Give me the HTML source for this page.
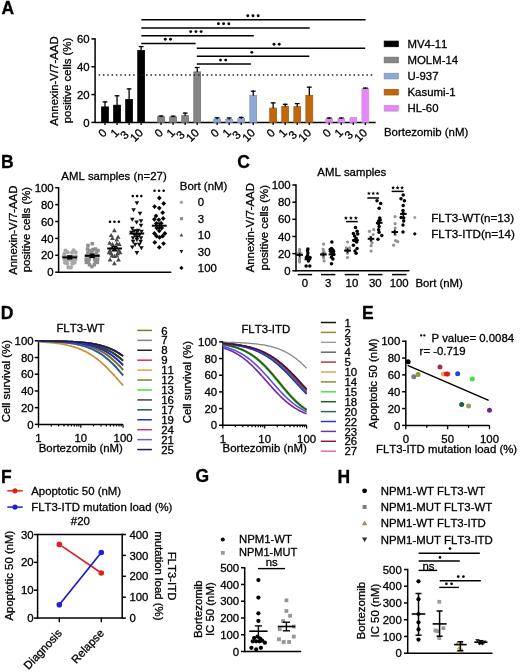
<!DOCTYPE html>
<html><head><meta charset="utf-8"><style>
html,body{margin:0;padding:0;background:#fff;}
text{stroke:#000;stroke-width:0.3px;}
svg{display:block;will-change:transform;font-kerning:none;font-feature-settings:"kern" 0;font-family:"Liberation Sans",sans-serif;font-size:11.4px;}
</style></head><body>
<svg width="520" height="672" viewBox="0 0 520 672">
<rect width="520" height="672" fill="#fff"/>
<text font-weight="bold" font-size="17.5" transform="translate(1.60,13.70)">A</text>
<line x1="95.10" y1="38.20" x2="95.10" y2="123.10" stroke="#000" stroke-width="1.5"/>
<line x1="91.40" y1="122.40" x2="95.10" y2="122.40" stroke="#000" stroke-width="1.5"/>
<text text-anchor="end" transform="translate(89.60,126.50)">0</text>
<line x1="91.40" y1="94.57" x2="95.10" y2="94.57" stroke="#000" stroke-width="1.5"/>
<text text-anchor="end" transform="translate(89.60,98.67)">20</text>
<line x1="91.40" y1="66.73" x2="95.10" y2="66.73" stroke="#000" stroke-width="1.5"/>
<text text-anchor="end" transform="translate(89.60,70.83)">40</text>
<line x1="91.40" y1="38.90" x2="95.10" y2="38.90" stroke="#000" stroke-width="1.5"/>
<text text-anchor="end" transform="translate(89.60,43.00)">60</text>
<line x1="95.10" y1="122.40" x2="375.70" y2="122.40" stroke="#000" stroke-width="1.5"/>
<text text-anchor="middle" transform="translate(57.60,81.00) rotate(-90)">Annexin-V/7-AAD</text>
<text text-anchor="middle" transform="translate(71.30,80.50) rotate(-90)">positive cells (%)</text>
<rect x="101.60" y="106.90" width="6.80" height="15.50" fill="#000000" stroke="#000000" stroke-width="0.8"/>
<line x1="105.00" y1="101.30" x2="105.00" y2="107.00" stroke="#000" stroke-width="1.3"/>
<line x1="102.60" y1="101.90" x2="107.40" y2="101.90" stroke="#000" stroke-width="1.3"/>
<line x1="105.00" y1="122.40" x2="105.00" y2="125.00" stroke="#000" stroke-width="1.3"/>
<text text-anchor="end" transform="translate(107.60,133.60) rotate(-45)">0</text>
<rect x="113.65" y="105.20" width="6.80" height="17.20" fill="#000000" stroke="#000000" stroke-width="0.8"/>
<line x1="117.05" y1="95.20" x2="117.05" y2="105.30" stroke="#000" stroke-width="1.3"/>
<line x1="114.65" y1="95.80" x2="119.45" y2="95.80" stroke="#000" stroke-width="1.3"/>
<line x1="117.05" y1="122.40" x2="117.05" y2="125.00" stroke="#000" stroke-width="1.3"/>
<text text-anchor="end" transform="translate(119.65,133.60) rotate(-45)">1</text>
<rect x="125.70" y="99.40" width="6.80" height="23.00" fill="#000000" stroke="#000000" stroke-width="0.8"/>
<line x1="129.10" y1="88.30" x2="129.10" y2="99.50" stroke="#000" stroke-width="1.3"/>
<line x1="126.70" y1="88.90" x2="131.50" y2="88.90" stroke="#000" stroke-width="1.3"/>
<line x1="129.10" y1="122.40" x2="129.10" y2="125.00" stroke="#000" stroke-width="1.3"/>
<text text-anchor="end" transform="translate(129.50,135.60) rotate(-45)">3</text>
<rect x="137.75" y="50.50" width="6.80" height="71.90" fill="#000000" stroke="#000000" stroke-width="0.8"/>
<line x1="141.15" y1="46.00" x2="141.15" y2="50.60" stroke="#000" stroke-width="1.3"/>
<line x1="138.75" y1="46.60" x2="143.55" y2="46.60" stroke="#000" stroke-width="1.3"/>
<line x1="141.15" y1="122.40" x2="141.15" y2="125.00" stroke="#000" stroke-width="1.3"/>
<text text-anchor="end" transform="translate(143.75,133.60) rotate(-45)">10</text>
<rect x="157.65" y="116.70" width="6.80" height="5.70" fill="#858585" stroke="#707070" stroke-width="0.8"/>
<line x1="161.05" y1="115.40" x2="161.05" y2="116.80" stroke="#000" stroke-width="1.3"/>
<line x1="158.65" y1="116.00" x2="163.45" y2="116.00" stroke="#000" stroke-width="1.3"/>
<line x1="161.05" y1="122.40" x2="161.05" y2="125.00" stroke="#000" stroke-width="1.3"/>
<text text-anchor="end" transform="translate(163.65,133.60) rotate(-45)">0</text>
<rect x="169.70" y="116.90" width="6.80" height="5.50" fill="#858585" stroke="#707070" stroke-width="0.8"/>
<line x1="173.10" y1="115.60" x2="173.10" y2="117.00" stroke="#000" stroke-width="1.3"/>
<line x1="170.70" y1="116.20" x2="175.50" y2="116.20" stroke="#000" stroke-width="1.3"/>
<line x1="173.10" y1="122.40" x2="173.10" y2="125.00" stroke="#000" stroke-width="1.3"/>
<text text-anchor="end" transform="translate(175.70,133.60) rotate(-45)">1</text>
<rect x="181.75" y="115.60" width="6.80" height="6.80" fill="#858585" stroke="#707070" stroke-width="0.8"/>
<line x1="185.15" y1="112.50" x2="185.15" y2="115.70" stroke="#000" stroke-width="1.3"/>
<line x1="182.75" y1="113.10" x2="187.55" y2="113.10" stroke="#000" stroke-width="1.3"/>
<line x1="185.15" y1="122.40" x2="185.15" y2="125.00" stroke="#000" stroke-width="1.3"/>
<text text-anchor="end" transform="translate(185.55,135.60) rotate(-45)">3</text>
<rect x="193.80" y="71.90" width="6.80" height="50.50" fill="#858585" stroke="#707070" stroke-width="0.8"/>
<line x1="197.20" y1="66.90" x2="197.20" y2="72.00" stroke="#000" stroke-width="1.3"/>
<line x1="194.80" y1="67.50" x2="199.60" y2="67.50" stroke="#000" stroke-width="1.3"/>
<line x1="197.20" y1="122.40" x2="197.20" y2="125.00" stroke="#000" stroke-width="1.3"/>
<text text-anchor="end" transform="translate(199.80,133.60) rotate(-45)">10</text>
<rect x="213.70" y="119.10" width="6.80" height="3.30" fill="#8eaad6" stroke="#7f94b8" stroke-width="0.8"/>
<line x1="217.10" y1="117.20" x2="217.10" y2="119.20" stroke="#000" stroke-width="1.3"/>
<line x1="214.70" y1="117.80" x2="219.50" y2="117.80" stroke="#000" stroke-width="1.3"/>
<line x1="217.10" y1="122.40" x2="217.10" y2="125.00" stroke="#000" stroke-width="1.3"/>
<text text-anchor="end" transform="translate(219.70,133.60) rotate(-45)">0</text>
<rect x="225.75" y="119.40" width="6.80" height="3.00" fill="#8eaad6" stroke="#7f94b8" stroke-width="0.8"/>
<line x1="229.15" y1="117.40" x2="229.15" y2="119.50" stroke="#000" stroke-width="1.3"/>
<line x1="226.75" y1="118.00" x2="231.55" y2="118.00" stroke="#000" stroke-width="1.3"/>
<line x1="229.15" y1="122.40" x2="229.15" y2="125.00" stroke="#000" stroke-width="1.3"/>
<text text-anchor="end" transform="translate(231.75,133.60) rotate(-45)">1</text>
<rect x="237.80" y="118.60" width="6.80" height="3.80" fill="#8eaad6" stroke="#7f94b8" stroke-width="0.8"/>
<line x1="241.20" y1="116.80" x2="241.20" y2="118.70" stroke="#000" stroke-width="1.3"/>
<line x1="238.80" y1="117.40" x2="243.60" y2="117.40" stroke="#000" stroke-width="1.3"/>
<line x1="241.20" y1="122.40" x2="241.20" y2="125.00" stroke="#000" stroke-width="1.3"/>
<text text-anchor="end" transform="translate(241.60,135.60) rotate(-45)">3</text>
<rect x="249.85" y="95.40" width="6.80" height="27.00" fill="#8eaad6" stroke="#7f94b8" stroke-width="0.8"/>
<line x1="253.25" y1="90.60" x2="253.25" y2="95.50" stroke="#000" stroke-width="1.3"/>
<line x1="250.85" y1="91.20" x2="255.65" y2="91.20" stroke="#000" stroke-width="1.3"/>
<line x1="253.25" y1="122.40" x2="253.25" y2="125.00" stroke="#000" stroke-width="1.3"/>
<text text-anchor="end" transform="translate(255.85,133.60) rotate(-45)">10</text>
<rect x="269.75" y="108.10" width="6.80" height="14.30" fill="#c2660c" stroke="#a65a12" stroke-width="0.8"/>
<line x1="273.15" y1="102.30" x2="273.15" y2="108.20" stroke="#000" stroke-width="1.3"/>
<line x1="270.75" y1="102.90" x2="275.55" y2="102.90" stroke="#000" stroke-width="1.3"/>
<line x1="273.15" y1="122.40" x2="273.15" y2="125.00" stroke="#000" stroke-width="1.3"/>
<text text-anchor="end" transform="translate(275.75,133.60) rotate(-45)">0</text>
<rect x="281.80" y="106.40" width="6.80" height="16.00" fill="#c2660c" stroke="#a65a12" stroke-width="0.8"/>
<line x1="285.20" y1="103.70" x2="285.20" y2="106.50" stroke="#000" stroke-width="1.3"/>
<line x1="282.80" y1="104.30" x2="287.60" y2="104.30" stroke="#000" stroke-width="1.3"/>
<line x1="285.20" y1="122.40" x2="285.20" y2="125.00" stroke="#000" stroke-width="1.3"/>
<text text-anchor="end" transform="translate(287.80,133.60) rotate(-45)">1</text>
<rect x="293.85" y="106.70" width="6.80" height="15.70" fill="#c2660c" stroke="#a65a12" stroke-width="0.8"/>
<line x1="297.25" y1="103.00" x2="297.25" y2="106.80" stroke="#000" stroke-width="1.3"/>
<line x1="294.85" y1="103.60" x2="299.65" y2="103.60" stroke="#000" stroke-width="1.3"/>
<line x1="297.25" y1="122.40" x2="297.25" y2="125.00" stroke="#000" stroke-width="1.3"/>
<text text-anchor="end" transform="translate(297.65,135.60) rotate(-45)">3</text>
<rect x="305.90" y="95.40" width="6.80" height="27.00" fill="#c2660c" stroke="#a65a12" stroke-width="0.8"/>
<line x1="309.30" y1="86.60" x2="309.30" y2="95.50" stroke="#000" stroke-width="1.3"/>
<line x1="306.90" y1="87.20" x2="311.70" y2="87.20" stroke="#000" stroke-width="1.3"/>
<line x1="309.30" y1="122.40" x2="309.30" y2="125.00" stroke="#000" stroke-width="1.3"/>
<text text-anchor="end" transform="translate(311.90,133.60) rotate(-45)">10</text>
<rect x="325.80" y="118.80" width="6.80" height="3.60" fill="#e488f6" stroke="#c98ada" stroke-width="0.8"/>
<line x1="329.20" y1="117.40" x2="329.20" y2="118.90" stroke="#000" stroke-width="1.3"/>
<line x1="326.80" y1="118.00" x2="331.60" y2="118.00" stroke="#000" stroke-width="1.3"/>
<line x1="329.20" y1="122.40" x2="329.20" y2="125.00" stroke="#000" stroke-width="1.3"/>
<text text-anchor="end" transform="translate(331.80,133.60) rotate(-45)">0</text>
<rect x="337.85" y="118.80" width="6.80" height="3.60" fill="#e488f6" stroke="#c98ada" stroke-width="0.8"/>
<line x1="341.25" y1="117.40" x2="341.25" y2="118.90" stroke="#000" stroke-width="1.3"/>
<line x1="338.85" y1="118.00" x2="343.65" y2="118.00" stroke="#000" stroke-width="1.3"/>
<line x1="341.25" y1="122.40" x2="341.25" y2="125.00" stroke="#000" stroke-width="1.3"/>
<text text-anchor="end" transform="translate(343.85,133.60) rotate(-45)">1</text>
<rect x="349.90" y="117.60" width="6.80" height="4.80" fill="#e488f6" stroke="#c98ada" stroke-width="0.8"/>
<line x1="353.30" y1="122.40" x2="353.30" y2="125.00" stroke="#000" stroke-width="1.3"/>
<text text-anchor="end" transform="translate(353.70,135.60) rotate(-45)">3</text>
<rect x="361.95" y="88.70" width="6.80" height="33.70" fill="#e488f6" stroke="#c98ada" stroke-width="0.8"/>
<line x1="365.35" y1="87.50" x2="365.35" y2="88.80" stroke="#000" stroke-width="1.3"/>
<line x1="362.95" y1="88.10" x2="367.75" y2="88.10" stroke="#000" stroke-width="1.3"/>
<line x1="365.35" y1="122.40" x2="365.35" y2="125.00" stroke="#000" stroke-width="1.3"/>
<text text-anchor="end" transform="translate(367.95,133.60) rotate(-45)">10</text>
<line x1="98.60" y1="74.90" x2="374.00" y2="74.90" stroke="#222" stroke-width="1.5" stroke-dasharray="1.5 2.82"/>
<line x1="141.30" y1="19.80" x2="365.60" y2="19.80" stroke="#000" stroke-width="1.45"/>
<circle cx="247.80" cy="15.70" r="1.45" fill="#000"/>
<circle cx="253.00" cy="15.70" r="1.45" fill="#000"/>
<circle cx="258.20" cy="15.70" r="1.45" fill="#000"/>
<line x1="141.30" y1="27.90" x2="309.70" y2="27.90" stroke="#000" stroke-width="1.45"/>
<circle cx="218.40" cy="23.80" r="1.45" fill="#000"/>
<circle cx="223.60" cy="23.80" r="1.45" fill="#000"/>
<circle cx="228.80" cy="23.80" r="1.45" fill="#000"/>
<line x1="141.30" y1="35.70" x2="253.80" y2="35.70" stroke="#000" stroke-width="1.45"/>
<circle cx="190.70" cy="31.60" r="1.45" fill="#000"/>
<circle cx="195.90" cy="31.60" r="1.45" fill="#000"/>
<circle cx="201.10" cy="31.60" r="1.45" fill="#000"/>
<line x1="141.30" y1="43.40" x2="195.60" y2="43.40" stroke="#000" stroke-width="1.45"/>
<circle cx="165.30" cy="39.30" r="1.45" fill="#000"/>
<circle cx="170.50" cy="39.30" r="1.45" fill="#000"/>
<line x1="196.80" y1="48.20" x2="365.20" y2="48.20" stroke="#000" stroke-width="1.45"/>
<circle cx="274.00" cy="44.30" r="1.45" fill="#000"/>
<circle cx="279.20" cy="44.30" r="1.45" fill="#000"/>
<line x1="196.80" y1="56.25" x2="309.30" y2="56.25" stroke="#000" stroke-width="1.45"/>
<circle cx="251.80" cy="52.35" r="1.45" fill="#000"/>
<line x1="196.80" y1="64.00" x2="250.90" y2="64.00" stroke="#000" stroke-width="1.45"/>
<circle cx="220.50" cy="60.10" r="1.45" fill="#000"/>
<circle cx="225.70" cy="60.10" r="1.45" fill="#000"/>
<rect x="384.20" y="41.10" width="14.1" height="5.6" fill="#000000" stroke="#000000" stroke-width="0.8"/>
<text transform="translate(407.50,47.70)">MV4-11</text>
<rect x="384.20" y="57.20" width="14.1" height="5.6" fill="#858585" stroke="#707070" stroke-width="0.8"/>
<text transform="translate(407.50,63.80)">MOLM-14</text>
<rect x="384.20" y="73.30" width="14.1" height="5.6" fill="#8eaad6" stroke="#7f94b8" stroke-width="0.8"/>
<text transform="translate(407.50,79.90)">U-937</text>
<rect x="384.20" y="89.40" width="14.1" height="5.6" fill="#c2660c" stroke="#a65a12" stroke-width="0.8"/>
<text transform="translate(407.50,96.00)">Kasumi-1</text>
<rect x="384.20" y="105.50" width="14.1" height="5.6" fill="#e488f6" stroke="#c98ada" stroke-width="0.8"/>
<text transform="translate(407.50,112.10)">HL-60</text>
<text transform="translate(384.00,136.10)">Bortezomib (nM)</text>
<text font-weight="bold" font-size="17.5" transform="translate(1.10,168.30)">B</text>
<text transform="translate(61.30,180.00)">AML samples (n=27)</text>
<line x1="58.60" y1="187.00" x2="58.60" y2="272.90" stroke="#000" stroke-width="1.5"/>
<line x1="55.20" y1="272.20" x2="58.60" y2="272.20" stroke="#000" stroke-width="1.5"/>
<text text-anchor="end" transform="translate(53.70,276.30)">0</text>
<line x1="55.20" y1="255.30" x2="58.60" y2="255.30" stroke="#000" stroke-width="1.5"/>
<text text-anchor="end" transform="translate(53.70,259.40)">20</text>
<line x1="55.20" y1="238.40" x2="58.60" y2="238.40" stroke="#000" stroke-width="1.5"/>
<text text-anchor="end" transform="translate(53.70,242.50)">40</text>
<line x1="55.20" y1="221.50" x2="58.60" y2="221.50" stroke="#000" stroke-width="1.5"/>
<text text-anchor="end" transform="translate(53.70,225.60)">60</text>
<line x1="55.20" y1="204.60" x2="58.60" y2="204.60" stroke="#000" stroke-width="1.5"/>
<text text-anchor="end" transform="translate(53.70,208.70)">80</text>
<line x1="55.20" y1="187.70" x2="58.60" y2="187.70" stroke="#000" stroke-width="1.5"/>
<text text-anchor="end" transform="translate(53.70,191.80)">100</text>
<line x1="58.60" y1="272.20" x2="171.30" y2="272.20" stroke="#000" stroke-width="1.5"/>
<text text-anchor="middle" transform="translate(16.70,230.20) rotate(-90)">Annexin-V/7-AAD</text>
<text text-anchor="middle" transform="translate(30.00,229.60) rotate(-90)">positive cells (%)</text>
<circle cx="65.50" cy="250.50" r="2.04" fill="#a8a8a8"/>
<circle cx="67.80" cy="252.30" r="2.04" fill="#a8a8a8"/>
<circle cx="64.50" cy="253.50" r="2.04" fill="#a8a8a8"/>
<circle cx="73.50" cy="250.30" r="2.04" fill="#a8a8a8"/>
<circle cx="75.60" cy="252.30" r="2.04" fill="#a8a8a8"/>
<circle cx="72.00" cy="252.80" r="2.04" fill="#a8a8a8"/>
<circle cx="63.80" cy="256.20" r="2.04" fill="#a8a8a8"/>
<circle cx="66.50" cy="256.80" r="2.04" fill="#a8a8a8"/>
<circle cx="69.70" cy="256.50" r="2.04" fill="#a8a8a8"/>
<circle cx="73.00" cy="256.80" r="2.04" fill="#a8a8a8"/>
<circle cx="75.80" cy="256.20" r="2.04" fill="#a8a8a8"/>
<circle cx="64.50" cy="259.80" r="2.04" fill="#a8a8a8"/>
<circle cx="67.20" cy="260.30" r="2.04" fill="#a8a8a8"/>
<circle cx="70.00" cy="259.80" r="2.04" fill="#a8a8a8"/>
<circle cx="72.70" cy="260.30" r="2.04" fill="#a8a8a8"/>
<circle cx="75.40" cy="259.80" r="2.04" fill="#a8a8a8"/>
<circle cx="65.00" cy="262.80" r="2.04" fill="#a8a8a8"/>
<circle cx="67.20" cy="263.80" r="2.04" fill="#a8a8a8"/>
<circle cx="72.20" cy="263.80" r="2.04" fill="#a8a8a8"/>
<circle cx="74.60" cy="262.80" r="2.04" fill="#a8a8a8"/>
<circle cx="68.40" cy="267.40" r="2.04" fill="#a8a8a8"/>
<circle cx="71.00" cy="267.40" r="2.04" fill="#a8a8a8"/>
<rect x="90.55" y="241.95" width="3.50" height="3.50" fill="#8e8e8e"/>
<rect x="86.25" y="243.65" width="3.50" height="3.50" fill="#8e8e8e"/>
<rect x="85.75" y="247.25" width="3.50" height="3.50" fill="#8e8e8e"/>
<rect x="88.25" y="248.75" width="3.50" height="3.50" fill="#8e8e8e"/>
<rect x="93.75" y="247.25" width="3.50" height="3.50" fill="#8e8e8e"/>
<rect x="96.25" y="248.75" width="3.50" height="3.50" fill="#8e8e8e"/>
<rect x="86.25" y="250.95" width="3.50" height="3.50" fill="#8e8e8e"/>
<rect x="90.25" y="250.75" width="3.50" height="3.50" fill="#8e8e8e"/>
<rect x="94.75" y="250.95" width="3.50" height="3.50" fill="#8e8e8e"/>
<rect x="91.25" y="247.75" width="3.50" height="3.50" fill="#8e8e8e"/>
<rect x="84.75" y="254.05" width="3.50" height="3.50" fill="#8e8e8e"/>
<rect x="88.25" y="254.55" width="3.50" height="3.50" fill="#8e8e8e"/>
<rect x="92.25" y="254.55" width="3.50" height="3.50" fill="#8e8e8e"/>
<rect x="96.05" y="254.05" width="3.50" height="3.50" fill="#8e8e8e"/>
<rect x="84.45" y="257.65" width="3.50" height="3.50" fill="#8e8e8e"/>
<rect x="87.45" y="257.45" width="3.50" height="3.50" fill="#8e8e8e"/>
<rect x="92.85" y="257.45" width="3.50" height="3.50" fill="#8e8e8e"/>
<rect x="95.85" y="257.65" width="3.50" height="3.50" fill="#8e8e8e"/>
<rect x="86.85" y="260.45" width="3.50" height="3.50" fill="#8e8e8e"/>
<rect x="93.45" y="260.45" width="3.50" height="3.50" fill="#8e8e8e"/>
<rect x="84.65" y="260.65" width="3.50" height="3.50" fill="#8e8e8e"/>
<rect x="95.65" y="260.65" width="3.50" height="3.50" fill="#8e8e8e"/>
<rect x="87.75" y="263.05" width="3.50" height="3.50" fill="#8e8e8e"/>
<rect x="92.55" y="263.05" width="3.50" height="3.50" fill="#8e8e8e"/>
<rect x="90.15" y="264.85" width="3.50" height="3.50" fill="#8e8e8e"/>
<path d="M114.40,228.00L116.80,232.20L112.00,232.20Z" fill="#4a4a4a"/>
<path d="M111.20,232.90L113.60,237.10L108.80,237.10Z" fill="#4a4a4a"/>
<path d="M118.10,234.50L120.50,238.70L115.70,238.70Z" fill="#4a4a4a"/>
<path d="M112.40,235.70L114.80,239.90L110.00,239.90Z" fill="#4a4a4a"/>
<path d="M116.80,237.30L119.20,241.50L114.40,241.50Z" fill="#4a4a4a"/>
<path d="M109.60,240.50L112.00,244.70L107.20,244.70Z" fill="#4a4a4a"/>
<path d="M112.40,241.70L114.80,245.90L110.00,245.90Z" fill="#4a4a4a"/>
<path d="M116.80,241.30L119.20,245.50L114.40,245.50Z" fill="#4a4a4a"/>
<path d="M119.30,241.70L121.70,245.90L116.90,245.90Z" fill="#4a4a4a"/>
<path d="M110.00,248.10L112.40,252.30L107.60,252.30Z" fill="#4a4a4a"/>
<path d="M114.40,247.20L116.80,251.40L112.00,251.40Z" fill="#4a4a4a"/>
<path d="M118.70,248.10L121.10,252.30L116.30,252.30Z" fill="#4a4a4a"/>
<path d="M111.20,251.10L113.60,255.30L108.80,255.30Z" fill="#4a4a4a"/>
<path d="M117.60,251.10L120.00,255.30L115.20,255.30Z" fill="#4a4a4a"/>
<path d="M109.00,250.10L111.40,254.30L106.60,254.30Z" fill="#4a4a4a"/>
<path d="M120.20,250.10L122.60,254.30L117.80,254.30Z" fill="#4a4a4a"/>
<path d="M114.40,253.80L116.80,258.00L112.00,258.00Z" fill="#4a4a4a"/>
<path d="M112.00,253.20L114.40,257.40L109.60,257.40Z" fill="#4a4a4a"/>
<path d="M116.80,253.20L119.20,257.40L114.40,257.40Z" fill="#4a4a4a"/>
<path d="M110.00,257.30L112.40,261.50L107.60,261.50Z" fill="#4a4a4a"/>
<path d="M118.50,257.30L120.90,261.50L116.10,261.50Z" fill="#4a4a4a"/>
<path d="M114.40,261.00L116.80,265.20L112.00,265.20Z" fill="#4a4a4a"/>
<path d="M112.00,245.10L114.40,249.30L109.60,249.30Z" fill="#4a4a4a"/>
<path d="M116.60,245.10L119.00,249.30L114.20,249.30Z" fill="#4a4a4a"/>
<path d="M136.90,205.34L139.24,201.25L134.56,201.25Z" fill="#111111"/>
<path d="M133.60,212.34L135.94,208.25L131.26,208.25Z" fill="#111111"/>
<path d="M140.00,215.84L142.34,211.75L137.66,211.75Z" fill="#111111"/>
<path d="M132.30,221.74L134.64,217.65L129.96,217.65Z" fill="#111111"/>
<path d="M136.60,224.54L138.94,220.44L134.26,220.44Z" fill="#111111"/>
<path d="M141.00,223.24L143.34,219.15L138.66,219.15Z" fill="#111111"/>
<path d="M141.00,227.74L143.34,223.65L138.66,223.65Z" fill="#111111"/>
<path d="M132.30,230.84L134.64,226.75L129.96,226.75Z" fill="#111111"/>
<path d="M134.00,233.34L136.34,229.25L131.66,229.25Z" fill="#111111"/>
<path d="M138.00,232.84L140.34,228.75L135.66,228.75Z" fill="#111111"/>
<path d="M141.50,233.84L143.84,229.75L139.16,229.75Z" fill="#111111"/>
<path d="M131.50,234.84L133.84,230.75L129.16,230.75Z" fill="#111111"/>
<path d="M134.50,237.34L136.84,233.25L132.16,233.25Z" fill="#111111"/>
<path d="M139.50,237.34L141.84,233.25L137.16,233.25Z" fill="#111111"/>
<path d="M136.90,239.84L139.24,235.75L134.56,235.75Z" fill="#111111"/>
<path d="M133.00,240.34L135.34,236.25L130.66,236.25Z" fill="#111111"/>
<path d="M141.00,240.34L143.34,236.25L138.66,236.25Z" fill="#111111"/>
<path d="M133.10,243.94L135.44,239.84L130.76,239.84Z" fill="#111111"/>
<path d="M140.70,243.94L143.04,239.84L138.36,239.84Z" fill="#111111"/>
<path d="M136.90,241.94L139.24,237.84L134.56,237.84Z" fill="#111111"/>
<path d="M135.20,246.94L137.54,242.84L132.86,242.84Z" fill="#111111"/>
<path d="M139.20,246.94L141.54,242.84L136.86,242.84Z" fill="#111111"/>
<path d="M132.30,249.54L134.64,245.44L129.96,245.44Z" fill="#111111"/>
<path d="M141.40,250.24L143.74,246.15L139.06,246.15Z" fill="#111111"/>
<path d="M136.90,255.14L139.24,251.05L134.56,251.05Z" fill="#111111"/>
<path d="M159.30,195.59L161.71,198.00L159.30,200.41L156.90,198.00Z" fill="#050505"/>
<path d="M163.70,201.09L166.10,203.50L163.70,205.91L161.29,203.50Z" fill="#050505"/>
<path d="M154.60,204.19L157.00,206.60L154.60,209.00L152.19,206.60Z" fill="#050505"/>
<path d="M159.30,205.69L161.71,208.10L159.30,210.50L156.90,208.10Z" fill="#050505"/>
<path d="M162.70,210.29L165.10,212.70L162.70,215.10L160.29,212.70Z" fill="#050505"/>
<path d="M156.00,213.50L158.41,215.90L156.00,218.31L153.59,215.90Z" fill="#050505"/>
<path d="M163.20,216.00L165.60,218.40L163.20,220.81L160.79,218.40Z" fill="#050505"/>
<path d="M154.40,216.90L156.81,219.30L154.40,221.71L152.00,219.30Z" fill="#050505"/>
<path d="M158.80,217.40L161.21,219.80L158.80,222.21L156.40,219.80Z" fill="#050505"/>
<path d="M156.30,221.00L158.71,223.40L156.30,225.81L153.90,223.40Z" fill="#050505"/>
<path d="M161.20,220.79L163.60,223.20L161.20,225.60L158.79,223.20Z" fill="#050505"/>
<path d="M156.80,225.59L159.21,228.00L156.80,230.41L154.40,228.00Z" fill="#050505"/>
<path d="M161.70,225.59L164.10,228.00L161.70,230.41L159.29,228.00Z" fill="#050505"/>
<path d="M159.30,228.40L161.71,230.80L159.30,233.21L156.90,230.80Z" fill="#050505"/>
<path d="M154.50,231.09L156.91,233.50L154.50,235.91L152.09,233.50Z" fill="#050505"/>
<path d="M156.60,233.79L159.00,236.20L156.60,238.60L154.19,236.20Z" fill="#050505"/>
<path d="M159.60,235.00L162.00,237.40L159.60,239.81L157.19,237.40Z" fill="#050505"/>
<path d="M162.60,233.79L165.00,236.20L162.60,238.60L160.19,236.20Z" fill="#050505"/>
<path d="M164.80,231.09L167.21,233.50L164.80,235.91L162.40,233.50Z" fill="#050505"/>
<path d="M154.80,240.00L157.21,242.40L154.80,244.81L152.40,242.40Z" fill="#050505"/>
<path d="M163.50,241.19L165.91,243.60L163.50,246.00L161.09,243.60Z" fill="#050505"/>
<path d="M159.30,244.90L161.71,247.30L159.30,249.71L156.90,247.30Z" fill="#050505"/>
<line x1="62.30" y1="257.40" x2="77.10" y2="257.40" stroke="#000" stroke-width="2.0"/>
<line x1="69.70" y1="256.00" x2="69.70" y2="258.80" stroke="#000" stroke-width="1.4"/>
<line x1="67.10" y1="256.00" x2="72.30" y2="256.00" stroke="#000" stroke-width="1.4"/>
<line x1="67.10" y1="258.80" x2="72.30" y2="258.80" stroke="#000" stroke-width="1.4"/>
<line x1="84.80" y1="255.80" x2="99.60" y2="255.80" stroke="#000" stroke-width="2.0"/>
<line x1="92.20" y1="254.20" x2="92.20" y2="257.40" stroke="#000" stroke-width="1.4"/>
<line x1="89.60" y1="254.20" x2="94.80" y2="254.20" stroke="#000" stroke-width="1.4"/>
<line x1="89.60" y1="257.40" x2="94.80" y2="257.40" stroke="#000" stroke-width="1.4"/>
<line x1="107.20" y1="248.50" x2="122.00" y2="248.50" stroke="#000" stroke-width="2.0"/>
<line x1="114.60" y1="246.50" x2="114.60" y2="250.50" stroke="#000" stroke-width="1.4"/>
<line x1="112.00" y1="246.50" x2="117.20" y2="246.50" stroke="#000" stroke-width="1.4"/>
<line x1="112.00" y1="250.50" x2="117.20" y2="250.50" stroke="#000" stroke-width="1.4"/>
<line x1="129.40" y1="233.50" x2="144.20" y2="233.50" stroke="#000" stroke-width="2.0"/>
<line x1="136.80" y1="230.70" x2="136.80" y2="236.30" stroke="#000" stroke-width="1.4"/>
<line x1="134.20" y1="230.70" x2="139.40" y2="230.70" stroke="#000" stroke-width="1.4"/>
<line x1="134.20" y1="236.30" x2="139.40" y2="236.30" stroke="#000" stroke-width="1.4"/>
<line x1="151.85" y1="225.70" x2="166.65" y2="225.70" stroke="#000" stroke-width="2.0"/>
<line x1="159.25" y1="223.10" x2="159.25" y2="228.30" stroke="#000" stroke-width="1.4"/>
<line x1="156.65" y1="223.10" x2="161.85" y2="223.10" stroke="#000" stroke-width="1.4"/>
<line x1="156.65" y1="228.30" x2="161.85" y2="228.30" stroke="#000" stroke-width="1.4"/>
<circle cx="110.00" cy="221.80" r="1.30" fill="#000"/>
<circle cx="114.45" cy="221.80" r="1.30" fill="#000"/>
<circle cx="118.90" cy="221.80" r="1.30" fill="#000"/>
<circle cx="132.80" cy="196.10" r="1.30" fill="#000"/>
<circle cx="137.05" cy="196.10" r="1.30" fill="#000"/>
<circle cx="141.30" cy="196.10" r="1.30" fill="#000"/>
<circle cx="154.55" cy="190.70" r="1.30" fill="#000"/>
<circle cx="159.10" cy="190.70" r="1.30" fill="#000"/>
<circle cx="163.65" cy="190.70" r="1.30" fill="#000"/>
<text transform="translate(179.80,190.00)">Bort (nM)</text>
<circle cx="181.40" cy="202.30" r="1.76" fill="#a8a8a8"/>
<text transform="translate(197.80,206.40)">0</text>
<rect x="179.80" y="217.10" width="3.20" height="3.20" fill="#8e8e8e"/>
<text transform="translate(197.80,222.80)">3</text>
<path d="M181.40,233.18L183.32,236.54L179.48,236.54Z" fill="#4a4a4a"/>
<text transform="translate(197.80,239.20)">10</text>
<path d="M181.40,253.42L183.32,250.06L179.48,250.06Z" fill="#111111"/>
<text transform="translate(197.80,255.60)">30</text>
<path d="M181.40,265.82L183.48,267.90L181.40,269.98L179.32,267.90Z" fill="#050505"/>
<text transform="translate(197.80,272.00)">100</text>
<text font-weight="bold" font-size="17.5" transform="translate(237.30,168.10)">C</text>
<text transform="translate(317.30,176.20)">AML samples</text>
<line x1="296.00" y1="184.30" x2="296.00" y2="271.50" stroke="#000" stroke-width="1.5"/>
<line x1="292.30" y1="270.80" x2="296.00" y2="270.80" stroke="#000" stroke-width="1.5"/>
<text text-anchor="end" transform="translate(290.70,274.90)">0</text>
<line x1="292.30" y1="253.64" x2="296.00" y2="253.64" stroke="#000" stroke-width="1.5"/>
<text text-anchor="end" transform="translate(290.70,257.74)">20</text>
<line x1="292.30" y1="236.48" x2="296.00" y2="236.48" stroke="#000" stroke-width="1.5"/>
<text text-anchor="end" transform="translate(290.70,240.58)">40</text>
<line x1="292.30" y1="219.32" x2="296.00" y2="219.32" stroke="#000" stroke-width="1.5"/>
<text text-anchor="end" transform="translate(290.70,223.42)">60</text>
<line x1="292.30" y1="202.16" x2="296.00" y2="202.16" stroke="#000" stroke-width="1.5"/>
<text text-anchor="end" transform="translate(290.70,206.26)">80</text>
<line x1="292.30" y1="185.00" x2="296.00" y2="185.00" stroke="#000" stroke-width="1.5"/>
<text text-anchor="end" transform="translate(290.70,189.10)">100</text>
<line x1="296.00" y1="270.80" x2="409.40" y2="270.80" stroke="#000" stroke-width="1.5"/>
<text text-anchor="middle" transform="translate(254.10,227.70) rotate(-90)">Annexin-V/7-AAD</text>
<text text-anchor="middle" transform="translate(267.80,227.70) rotate(-90)">positive cells (%)</text>
<line x1="297.70" y1="274.60" x2="312.10" y2="274.60" stroke="#000" stroke-width="1.5"/>
<text text-anchor="middle" transform="translate(304.90,286.70)">0</text>
<line x1="321.00" y1="274.60" x2="335.40" y2="274.60" stroke="#000" stroke-width="1.5"/>
<text text-anchor="middle" transform="translate(328.20,286.70)">3</text>
<line x1="344.70" y1="274.60" x2="359.10" y2="274.60" stroke="#000" stroke-width="1.5"/>
<text text-anchor="middle" transform="translate(351.90,286.70)">10</text>
<line x1="368.10" y1="274.60" x2="382.50" y2="274.60" stroke="#000" stroke-width="1.5"/>
<text text-anchor="middle" transform="translate(375.30,286.70)">30</text>
<line x1="392.00" y1="274.60" x2="406.40" y2="274.60" stroke="#000" stroke-width="1.5"/>
<text text-anchor="middle" transform="translate(399.20,286.70)">100</text>
<text transform="translate(415.40,286.70)">Bort (nM)</text>
<circle cx="414.80" cy="217.40" r="1.50" fill="#9a9a9a"/>
<text transform="translate(431.20,221.50) scale(1.02,1)">FLT3-WT(n=13)</text>
<circle cx="414.80" cy="233.80" r="1.60" fill="#000"/>
<text transform="translate(431.20,237.70) scale(1.02,1)">FLT3-ITD(n=14)</text>
<circle cx="299.60" cy="249.40" r="1.60" fill="#929292"/>
<circle cx="299.60" cy="251.40" r="1.60" fill="#929292"/>
<circle cx="299.80" cy="257.70" r="1.60" fill="#929292"/>
<circle cx="299.40" cy="260.00" r="1.60" fill="#929292"/>
<circle cx="299.60" cy="262.00" r="1.60" fill="#929292"/>
<circle cx="298.60" cy="253.20" r="1.60" fill="#929292"/>
<circle cx="300.60" cy="253.40" r="1.60" fill="#929292"/>
<circle cx="307.90" cy="248.90" r="1.75" fill="#000"/>
<circle cx="307.50" cy="250.80" r="1.75" fill="#000"/>
<circle cx="307.90" cy="253.10" r="1.75" fill="#000"/>
<circle cx="307.50" cy="255.40" r="1.75" fill="#000"/>
<circle cx="307.00" cy="258.20" r="1.75" fill="#000"/>
<circle cx="309.30" cy="259.10" r="1.75" fill="#000"/>
<circle cx="308.40" cy="260.90" r="1.75" fill="#000"/>
<circle cx="306.10" cy="266.00" r="1.75" fill="#000"/>
<circle cx="309.80" cy="266.00" r="1.75" fill="#000"/>
<circle cx="306.40" cy="257.40" r="1.75" fill="#000"/>
<circle cx="310.00" cy="257.60" r="1.75" fill="#000"/>
<circle cx="323.60" cy="244.10" r="1.60" fill="#929292"/>
<circle cx="323.20" cy="249.40" r="1.60" fill="#929292"/>
<circle cx="323.60" cy="251.70" r="1.60" fill="#929292"/>
<circle cx="323.20" cy="255.90" r="1.60" fill="#929292"/>
<circle cx="323.60" cy="257.70" r="1.60" fill="#929292"/>
<circle cx="324.10" cy="260.90" r="1.60" fill="#929292"/>
<circle cx="322.40" cy="253.60" r="1.60" fill="#929292"/>
<circle cx="324.60" cy="253.20" r="1.60" fill="#929292"/>
<circle cx="331.90" cy="242.00" r="1.75" fill="#000"/>
<circle cx="331.50" cy="248.50" r="1.75" fill="#000"/>
<circle cx="332.90" cy="249.90" r="1.75" fill="#000"/>
<circle cx="330.50" cy="251.20" r="1.75" fill="#000"/>
<circle cx="331.90" cy="254.00" r="1.75" fill="#000"/>
<circle cx="333.80" cy="254.50" r="1.75" fill="#000"/>
<circle cx="331.50" cy="257.20" r="1.75" fill="#000"/>
<circle cx="332.90" cy="259.10" r="1.75" fill="#000"/>
<circle cx="331.50" cy="263.70" r="1.75" fill="#000"/>
<circle cx="330.20" cy="249.40" r="1.75" fill="#000"/>
<circle cx="333.60" cy="251.60" r="1.75" fill="#000"/>
<circle cx="347.50" cy="242.00" r="1.60" fill="#929292"/>
<circle cx="346.40" cy="247.90" r="1.60" fill="#929292"/>
<circle cx="349.60" cy="247.90" r="1.60" fill="#929292"/>
<circle cx="347.50" cy="253.20" r="1.60" fill="#929292"/>
<circle cx="347.50" cy="257.50" r="1.60" fill="#929292"/>
<circle cx="346.20" cy="250.20" r="1.60" fill="#929292"/>
<circle cx="348.80" cy="250.60" r="1.60" fill="#929292"/>
<circle cx="355.50" cy="227.50" r="1.75" fill="#000"/>
<circle cx="357.10" cy="231.30" r="1.75" fill="#000"/>
<circle cx="353.40" cy="233.40" r="1.75" fill="#000"/>
<circle cx="357.70" cy="234.00" r="1.75" fill="#000"/>
<circle cx="354.50" cy="236.10" r="1.75" fill="#000"/>
<circle cx="356.10" cy="238.20" r="1.75" fill="#000"/>
<circle cx="353.90" cy="240.40" r="1.75" fill="#000"/>
<circle cx="356.60" cy="242.00" r="1.75" fill="#000"/>
<circle cx="353.40" cy="245.20" r="1.75" fill="#000"/>
<circle cx="357.10" cy="248.40" r="1.75" fill="#000"/>
<circle cx="355.00" cy="251.10" r="1.75" fill="#000"/>
<circle cx="356.10" cy="253.20" r="1.75" fill="#000"/>
<circle cx="373.80" cy="229.70" r="1.60" fill="#929292"/>
<circle cx="369.50" cy="231.30" r="1.60" fill="#929292"/>
<circle cx="373.20" cy="234.50" r="1.60" fill="#929292"/>
<circle cx="370.50" cy="237.20" r="1.60" fill="#929292"/>
<circle cx="371.10" cy="240.40" r="1.60" fill="#929292"/>
<circle cx="371.10" cy="245.70" r="1.60" fill="#929292"/>
<circle cx="371.10" cy="251.10" r="1.60" fill="#929292"/>
<circle cx="372.00" cy="242.80" r="1.60" fill="#929292"/>
<circle cx="377.00" cy="200.70" r="1.75" fill="#000"/>
<circle cx="380.70" cy="203.40" r="1.75" fill="#000"/>
<circle cx="379.10" cy="208.20" r="1.75" fill="#000"/>
<circle cx="379.70" cy="217.90" r="1.75" fill="#000"/>
<circle cx="378.60" cy="221.10" r="1.75" fill="#000"/>
<circle cx="378.00" cy="223.20" r="1.75" fill="#000"/>
<circle cx="379.10" cy="226.40" r="1.75" fill="#000"/>
<circle cx="378.60" cy="229.70" r="1.75" fill="#000"/>
<circle cx="379.10" cy="232.30" r="1.75" fill="#000"/>
<circle cx="381.80" cy="235.50" r="1.75" fill="#000"/>
<circle cx="378.00" cy="239.30" r="1.75" fill="#000"/>
<circle cx="380.20" cy="220.00" r="1.75" fill="#000"/>
<circle cx="395.10" cy="216.60" r="1.60" fill="#929292"/>
<circle cx="395.10" cy="223.70" r="1.60" fill="#929292"/>
<circle cx="395.10" cy="228.00" r="1.60" fill="#929292"/>
<circle cx="394.60" cy="231.60" r="1.60" fill="#929292"/>
<circle cx="395.10" cy="234.60" r="1.60" fill="#929292"/>
<circle cx="395.60" cy="240.70" r="1.60" fill="#929292"/>
<circle cx="397.70" cy="241.70" r="1.60" fill="#929292"/>
<circle cx="393.60" cy="245.20" r="1.60" fill="#929292"/>
<circle cx="403.20" cy="195.10" r="1.75" fill="#000"/>
<circle cx="401.00" cy="198.70" r="1.75" fill="#000"/>
<circle cx="404.40" cy="200.70" r="1.75" fill="#000"/>
<circle cx="403.20" cy="205.50" r="1.75" fill="#000"/>
<circle cx="403.00" cy="210.50" r="1.75" fill="#000"/>
<circle cx="403.20" cy="213.40" r="1.75" fill="#000"/>
<circle cx="401.20" cy="217.40" r="1.75" fill="#000"/>
<circle cx="403.70" cy="217.90" r="1.75" fill="#000"/>
<circle cx="403.70" cy="220.90" r="1.75" fill="#000"/>
<circle cx="403.00" cy="225.00" r="1.75" fill="#000"/>
<circle cx="403.00" cy="232.10" r="1.75" fill="#000"/>
<line x1="296.30" y1="254.90" x2="302.90" y2="254.90" stroke="#000" stroke-width="2.0"/>
<line x1="299.60" y1="252.90" x2="299.60" y2="256.90" stroke="#000" stroke-width="1.5"/>
<line x1="304.60" y1="259.30" x2="311.20" y2="259.30" stroke="#000" stroke-width="2.0"/>
<line x1="307.90" y1="257.10" x2="307.90" y2="261.50" stroke="#000" stroke-width="1.5"/>
<line x1="320.10" y1="254.50" x2="326.70" y2="254.50" stroke="#000" stroke-width="2.0"/>
<line x1="323.40" y1="252.70" x2="323.40" y2="256.30" stroke="#000" stroke-width="1.5"/>
<line x1="328.60" y1="254.40" x2="335.20" y2="254.40" stroke="#000" stroke-width="2.0"/>
<line x1="331.90" y1="252.40" x2="331.90" y2="256.40" stroke="#000" stroke-width="1.5"/>
<line x1="344.20" y1="250.60" x2="350.80" y2="250.60" stroke="#000" stroke-width="2.0"/>
<line x1="347.50" y1="248.40" x2="347.50" y2="252.80" stroke="#000" stroke-width="1.5"/>
<line x1="352.30" y1="240.20" x2="358.90" y2="240.20" stroke="#000" stroke-width="2.0"/>
<line x1="355.60" y1="237.80" x2="355.60" y2="242.60" stroke="#000" stroke-width="1.5"/>
<line x1="367.70" y1="238.80" x2="374.30" y2="238.80" stroke="#000" stroke-width="2.0"/>
<line x1="371.00" y1="236.20" x2="371.00" y2="241.40" stroke="#000" stroke-width="1.5"/>
<line x1="375.90" y1="222.80" x2="382.50" y2="222.80" stroke="#000" stroke-width="2.0"/>
<line x1="379.20" y1="219.80" x2="379.20" y2="225.80" stroke="#000" stroke-width="1.5"/>
<line x1="391.50" y1="232.10" x2="398.10" y2="232.10" stroke="#000" stroke-width="2.0"/>
<line x1="394.80" y1="229.50" x2="394.80" y2="234.70" stroke="#000" stroke-width="1.5"/>
<line x1="400.10" y1="213.90" x2="406.70" y2="213.90" stroke="#000" stroke-width="2.0"/>
<line x1="403.40" y1="210.90" x2="403.40" y2="216.90" stroke="#000" stroke-width="1.5"/>
<path d="M345.90,216.10 L346.46,217.33 L347.80,217.48 L346.80,218.39 L347.08,219.72 L345.90,219.05 L344.72,219.72 L345.00,218.39 L344.00,217.48 L345.34,217.33Z" fill="#000"/>
<path d="M350.90,216.10 L351.46,217.33 L352.80,217.48 L351.80,218.39 L352.08,219.72 L350.90,219.05 L349.72,219.72 L350.00,218.39 L349.00,217.48 L350.34,217.33Z" fill="#000"/>
<path d="M355.90,216.10 L356.46,217.33 L357.80,217.48 L356.80,218.39 L357.08,219.72 L355.90,219.05 L354.72,219.72 L355.00,218.39 L354.00,217.48 L355.34,217.33Z" fill="#000"/>
<line x1="345.90" y1="221.60" x2="357.70" y2="221.60" stroke="#000" stroke-width="1.5"/>
<path d="M368.90,191.40 L369.46,192.63 L370.80,192.78 L369.80,193.69 L370.08,195.02 L368.90,194.35 L367.72,195.02 L368.00,193.69 L367.00,192.78 L368.34,192.63Z" fill="#000"/>
<path d="M373.20,191.40 L373.76,192.63 L375.10,192.78 L374.10,193.69 L374.38,195.02 L373.20,194.35 L372.02,195.02 L372.30,193.69 L371.30,192.78 L372.64,192.63Z" fill="#000"/>
<path d="M377.50,191.40 L378.06,192.63 L379.40,192.78 L378.40,193.69 L378.68,195.02 L377.50,194.35 L376.32,195.02 L376.60,193.69 L375.60,192.78 L376.94,192.63Z" fill="#000"/>
<line x1="367.30" y1="198.00" x2="379.10" y2="198.00" stroke="#000" stroke-width="1.5"/>
<path d="M393.10,185.80 L393.66,187.03 L395.00,187.18 L394.00,188.09 L394.28,189.42 L393.10,188.75 L391.92,189.42 L392.20,188.09 L391.20,187.18 L392.54,187.03Z" fill="#000"/>
<path d="M397.60,185.80 L398.16,187.03 L399.50,187.18 L398.50,188.09 L398.78,189.42 L397.60,188.75 L396.42,189.42 L396.70,188.09 L395.70,187.18 L397.04,187.03Z" fill="#000"/>
<path d="M402.10,185.80 L402.66,187.03 L404.00,187.18 L403.00,188.09 L403.28,189.42 L402.10,188.75 L400.92,189.42 L401.20,188.09 L400.20,187.18 L401.54,187.03Z" fill="#000"/>
<line x1="391.60" y1="191.40" x2="403.70" y2="191.40" stroke="#000" stroke-width="1.5"/>
<text font-weight="bold" font-size="17.5" transform="translate(0.80,319.40)">D</text>
<line x1="38.50" y1="340.10" x2="38.50" y2="425.10" stroke="#000" stroke-width="1.5"/>
<line x1="34.80" y1="424.40" x2="38.50" y2="424.40" stroke="#000" stroke-width="1.5"/>
<text text-anchor="end" transform="translate(33.60,428.50)">0</text>
<line x1="34.80" y1="407.68" x2="38.50" y2="407.68" stroke="#000" stroke-width="1.5"/>
<text text-anchor="end" transform="translate(33.60,411.78)">20</text>
<line x1="34.80" y1="390.96" x2="38.50" y2="390.96" stroke="#000" stroke-width="1.5"/>
<text text-anchor="end" transform="translate(33.60,395.06)">40</text>
<line x1="34.80" y1="374.24" x2="38.50" y2="374.24" stroke="#000" stroke-width="1.5"/>
<text text-anchor="end" transform="translate(33.60,378.34)">60</text>
<line x1="34.80" y1="357.52" x2="38.50" y2="357.52" stroke="#000" stroke-width="1.5"/>
<text text-anchor="end" transform="translate(33.60,361.62)">80</text>
<line x1="34.80" y1="340.80" x2="38.50" y2="340.80" stroke="#000" stroke-width="1.5"/>
<text text-anchor="end" transform="translate(33.60,344.90)">100</text>
<line x1="38.50" y1="424.40" x2="123.10" y2="424.40" stroke="#000" stroke-width="1.5"/>
<line x1="38.50" y1="424.40" x2="38.50" y2="427.80" stroke="#000" stroke-width="1.2"/>
<line x1="51.23" y1="424.40" x2="51.23" y2="426.40" stroke="#000" stroke-width="1.2"/>
<line x1="58.68" y1="424.40" x2="58.68" y2="426.40" stroke="#000" stroke-width="1.2"/>
<line x1="63.97" y1="424.40" x2="63.97" y2="426.40" stroke="#000" stroke-width="1.2"/>
<line x1="68.07" y1="424.40" x2="68.07" y2="426.40" stroke="#000" stroke-width="1.2"/>
<line x1="71.42" y1="424.40" x2="71.42" y2="426.40" stroke="#000" stroke-width="1.2"/>
<line x1="74.25" y1="424.40" x2="74.25" y2="426.40" stroke="#000" stroke-width="1.2"/>
<line x1="76.70" y1="424.40" x2="76.70" y2="426.40" stroke="#000" stroke-width="1.2"/>
<line x1="78.86" y1="424.40" x2="78.86" y2="426.40" stroke="#000" stroke-width="1.2"/>
<line x1="80.80" y1="424.40" x2="80.80" y2="427.80" stroke="#000" stroke-width="1.2"/>
<line x1="93.53" y1="424.40" x2="93.53" y2="426.40" stroke="#000" stroke-width="1.2"/>
<line x1="100.98" y1="424.40" x2="100.98" y2="426.40" stroke="#000" stroke-width="1.2"/>
<line x1="106.27" y1="424.40" x2="106.27" y2="426.40" stroke="#000" stroke-width="1.2"/>
<line x1="110.37" y1="424.40" x2="110.37" y2="426.40" stroke="#000" stroke-width="1.2"/>
<line x1="113.72" y1="424.40" x2="113.72" y2="426.40" stroke="#000" stroke-width="1.2"/>
<line x1="116.55" y1="424.40" x2="116.55" y2="426.40" stroke="#000" stroke-width="1.2"/>
<line x1="119.00" y1="424.40" x2="119.00" y2="426.40" stroke="#000" stroke-width="1.2"/>
<line x1="121.16" y1="424.40" x2="121.16" y2="426.40" stroke="#000" stroke-width="1.2"/>
<line x1="123.10" y1="424.40" x2="123.10" y2="427.80" stroke="#000" stroke-width="1.2"/>
<text text-anchor="middle" transform="translate(38.50,442.40)">1</text>
<text text-anchor="middle" transform="translate(80.80,442.40)">10</text>
<text text-anchor="middle" transform="translate(123.10,442.40)">100</text>
<text text-anchor="middle" transform="translate(80.80,452.30)">Bortezomib (nM)</text>
<text transform="translate(56.40,332.30)">FLT3-WT</text>
<text text-anchor="middle" transform="translate(9.90,381.20) rotate(-90)">Cell survival (%)</text>
<path d="M38.50,341.08 L39.91,341.11 L41.32,341.13 L42.73,341.16 L44.14,341.20 L45.55,341.23 L46.96,341.27 L48.37,341.31 L49.78,341.35 L51.19,341.40 L52.60,341.46 L54.01,341.51 L55.42,341.57 L56.83,341.64 L58.24,341.72 L59.65,341.80 L61.06,341.88 L62.47,341.98 L63.88,342.08 L65.29,342.19 L66.70,342.31 L68.11,342.44 L69.52,342.58 L70.93,342.73 L72.34,342.90 L73.75,343.08 L75.16,343.27 L76.57,343.49 L77.98,343.71 L79.39,343.96 L80.80,344.23 L82.21,344.52 L83.62,344.83 L85.03,345.16 L86.44,345.53 L87.85,345.92 L89.26,346.34 L90.67,346.79 L92.08,347.28 L93.49,347.80 L94.90,348.36 L96.31,348.96 L97.72,349.61 L99.13,350.30 L100.54,351.03 L101.95,351.81 L103.36,352.65 L104.77,353.53 L106.18,354.47 L107.59,355.46 L109.00,356.51 L110.41,357.62 L111.82,358.78 L113.23,360.00 L114.64,361.28 L116.05,362.61 L117.46,364.00 L118.87,365.44 L120.28,366.93 L121.69,368.47 L123.10,370.05" fill="none" stroke="#9c9c40" stroke-width="1.7" stroke-linejoin="round"/>
<path d="M38.50,340.96 L39.91,340.97 L41.32,340.99 L42.73,341.01 L44.14,341.03 L45.55,341.05 L46.96,341.07 L48.37,341.09 L49.78,341.12 L51.19,341.14 L52.60,341.17 L54.01,341.21 L55.42,341.24 L56.83,341.28 L58.24,341.32 L59.65,341.37 L61.06,341.42 L62.47,341.47 L63.88,341.53 L65.29,341.59 L66.70,341.66 L68.11,341.74 L69.52,341.82 L70.93,341.91 L72.34,342.00 L73.75,342.11 L75.16,342.22 L76.57,342.35 L77.98,342.48 L79.39,342.62 L80.80,342.78 L82.21,342.95 L83.62,343.13 L85.03,343.33 L86.44,343.55 L87.85,343.78 L89.26,344.04 L90.67,344.31 L92.08,344.60 L93.49,344.92 L94.90,345.27 L96.31,345.64 L97.72,346.04 L99.13,346.47 L100.54,346.93 L101.95,347.43 L103.36,347.96 L104.77,348.53 L106.18,349.15 L107.59,349.80 L109.00,350.50 L110.41,351.25 L111.82,352.05 L113.23,352.90 L114.64,353.80 L116.05,354.75 L117.46,355.76 L118.87,356.82 L120.28,357.95 L121.69,359.13 L123.10,360.36" fill="none" stroke="#8c8c8c" stroke-width="1.7" stroke-linejoin="round"/>
<path d="M38.50,340.92 L39.91,340.93 L41.32,340.94 L42.73,340.95 L44.14,340.96 L45.55,340.98 L46.96,340.99 L48.37,341.01 L49.78,341.03 L51.19,341.05 L52.60,341.07 L54.01,341.09 L55.42,341.12 L56.83,341.15 L58.24,341.18 L59.65,341.21 L61.06,341.25 L62.47,341.29 L63.88,341.33 L65.29,341.38 L66.70,341.43 L68.11,341.48 L69.52,341.54 L70.93,341.60 L72.34,341.67 L73.75,341.75 L75.16,341.83 L76.57,341.92 L77.98,342.02 L79.39,342.13 L80.80,342.24 L82.21,342.37 L83.62,342.50 L85.03,342.65 L86.44,342.81 L87.85,342.98 L89.26,343.17 L90.67,343.37 L92.08,343.59 L93.49,343.82 L94.90,344.08 L96.31,344.36 L97.72,344.66 L99.13,344.98 L100.54,345.33 L101.95,345.70 L103.36,346.11 L104.77,346.54 L106.18,347.01 L107.59,347.51 L109.00,348.05 L110.41,348.63 L111.82,349.25 L113.23,349.91 L114.64,350.62 L116.05,351.38 L117.46,352.18 L118.87,353.04 L120.28,353.95 L121.69,354.91 L123.10,355.93" fill="none" stroke="#202020" stroke-width="1.7" stroke-linejoin="round"/>
<path d="M38.50,341.01 L39.91,341.03 L41.32,341.05 L42.73,341.07 L44.14,341.10 L45.55,341.12 L46.96,341.15 L48.37,341.18 L49.78,341.22 L51.19,341.25 L52.60,341.29 L54.01,341.34 L55.42,341.38 L56.83,341.43 L58.24,341.49 L59.65,341.55 L61.06,341.62 L62.47,341.69 L63.88,341.76 L65.29,341.85 L66.70,341.94 L68.11,342.04 L69.52,342.15 L70.93,342.26 L72.34,342.39 L73.75,342.52 L75.16,342.67 L76.57,342.83 L77.98,343.01 L79.39,343.20 L80.80,343.40 L82.21,343.62 L83.62,343.86 L85.03,344.12 L86.44,344.40 L87.85,344.71 L89.26,345.03 L90.67,345.38 L92.08,345.76 L93.49,346.17 L94.90,346.61 L96.31,347.09 L97.72,347.60 L99.13,348.14 L100.54,348.73 L101.95,349.36 L103.36,350.03 L104.77,350.74 L106.18,351.51 L107.59,352.32 L109.00,353.18 L110.41,354.10 L111.82,355.07 L113.23,356.10 L114.64,357.18 L116.05,358.32 L117.46,359.52 L118.87,360.78 L120.28,362.09 L121.69,363.46 L123.10,364.88" fill="none" stroke="#d83050" stroke-width="1.7" stroke-linejoin="round"/>
<path d="M38.50,341.75 L39.91,341.82 L41.32,341.91 L42.73,341.99 L44.14,342.09 L45.55,342.19 L46.96,342.30 L48.37,342.41 L49.78,342.54 L51.19,342.67 L52.60,342.82 L54.01,342.98 L55.42,343.15 L56.83,343.33 L58.24,343.52 L59.65,343.73 L61.06,343.96 L62.47,344.20 L63.88,344.46 L65.29,344.74 L66.70,345.03 L68.11,345.35 L69.52,345.70 L70.93,346.06 L72.34,346.45 L73.75,346.87 L75.16,347.32 L76.57,347.79 L77.98,348.30 L79.39,348.84 L80.80,349.42 L82.21,350.03 L83.62,350.68 L85.03,351.37 L86.44,352.10 L87.85,352.87 L89.26,353.68 L90.67,354.54 L92.08,355.45 L93.49,356.40 L94.90,357.39 L96.31,358.44 L97.72,359.53 L99.13,360.67 L100.54,361.85 L101.95,363.09 L103.36,364.36 L104.77,365.68 L106.18,367.05 L107.59,368.45 L109.00,369.88 L110.41,371.36 L111.82,372.86 L113.23,374.39 L114.64,375.94 L116.05,377.52 L117.46,379.10 L118.87,380.70 L120.28,382.30 L121.69,383.91 L123.10,385.51" fill="none" stroke="#d08a3a" stroke-width="1.7" stroke-linejoin="round"/>
<path d="M38.50,341.08 L39.91,341.10 L41.32,341.13 L42.73,341.16 L44.14,341.19 L45.55,341.23 L46.96,341.26 L48.37,341.30 L49.78,341.35 L51.19,341.39 L52.60,341.45 L54.01,341.50 L55.42,341.56 L56.83,341.63 L58.24,341.70 L59.65,341.78 L61.06,341.87 L62.47,341.96 L63.88,342.06 L65.29,342.17 L66.70,342.29 L68.11,342.42 L69.52,342.56 L70.93,342.71 L72.34,342.87 L73.75,343.05 L75.16,343.24 L76.57,343.45 L77.98,343.68 L79.39,343.92 L80.80,344.19 L82.21,344.47 L83.62,344.78 L85.03,345.11 L86.44,345.47 L87.85,345.86 L89.26,346.27 L90.67,346.72 L92.08,347.20 L93.49,347.72 L94.90,348.27 L96.31,348.87 L97.72,349.51 L99.13,350.19 L100.54,350.91 L101.95,351.69 L103.36,352.51 L104.77,353.39 L106.18,354.32 L107.59,355.30 L109.00,356.34 L110.41,357.44 L111.82,358.59 L113.23,359.81 L114.64,361.07 L116.05,362.40 L117.46,363.78 L118.87,365.21 L120.28,366.70 L121.69,368.23 L123.10,369.81" fill="none" stroke="#6e6e28" stroke-width="1.7" stroke-linejoin="round"/>
<path d="M38.50,341.18 L39.91,341.21 L41.32,341.25 L42.73,341.29 L44.14,341.33 L45.55,341.38 L46.96,341.43 L48.37,341.48 L49.78,341.54 L51.19,341.61 L52.60,341.68 L54.01,341.75 L55.42,341.83 L56.83,341.92 L58.24,342.02 L59.65,342.13 L61.06,342.24 L62.47,342.37 L63.88,342.50 L65.29,342.65 L66.70,342.81 L68.11,342.98 L69.52,343.17 L70.93,343.37 L72.34,343.59 L73.75,343.83 L75.16,344.08 L76.57,344.36 L77.98,344.66 L79.39,344.98 L80.80,345.33 L82.21,345.71 L83.62,346.11 L85.03,346.55 L86.44,347.01 L87.85,347.52 L89.26,348.06 L90.67,348.64 L92.08,349.26 L93.49,349.92 L94.90,350.63 L96.31,351.39 L97.72,352.19 L99.13,353.05 L100.54,353.96 L101.95,354.92 L103.36,355.94 L104.77,357.02 L106.18,358.15 L107.59,359.34 L109.00,360.58 L110.41,361.89 L111.82,363.25 L113.23,364.66 L114.64,366.12 L116.05,367.64 L117.46,369.20 L118.87,370.80 L120.28,372.45 L121.69,374.12 L123.10,375.83" fill="none" stroke="#40e040" stroke-width="1.7" stroke-linejoin="round"/>
<path d="M38.50,340.97 L39.91,340.98 L41.32,341.00 L42.73,341.02 L44.14,341.03 L45.55,341.05 L46.96,341.08 L48.37,341.10 L49.78,341.13 L51.19,341.16 L52.60,341.19 L54.01,341.22 L55.42,341.26 L56.83,341.30 L58.24,341.34 L59.65,341.39 L61.06,341.44 L62.47,341.50 L63.88,341.56 L65.29,341.62 L66.70,341.70 L68.11,341.77 L69.52,341.86 L70.93,341.95 L72.34,342.05 L73.75,342.16 L75.16,342.28 L76.57,342.41 L77.98,342.54 L79.39,342.69 L80.80,342.86 L82.21,343.03 L83.62,343.22 L85.03,343.43 L86.44,343.66 L87.85,343.90 L89.26,344.16 L90.67,344.44 L92.08,344.75 L93.49,345.08 L94.90,345.43 L96.31,345.82 L97.72,346.23 L99.13,346.68 L100.54,347.15 L101.95,347.67 L103.36,348.22 L104.77,348.81 L106.18,349.44 L107.59,350.12 L109.00,350.84 L110.41,351.61 L111.82,352.43 L113.23,353.30 L114.64,354.23 L116.05,355.21 L117.46,356.24 L118.87,357.33 L120.28,358.48 L121.69,359.69 L123.10,360.95" fill="none" stroke="#2a4a2a" stroke-width="1.7" stroke-linejoin="round"/>
<path d="M38.50,340.96 L39.91,340.98 L41.32,340.99 L42.73,341.01 L44.14,341.03 L45.55,341.05 L46.96,341.07 L48.37,341.10 L49.78,341.12 L51.19,341.15 L52.60,341.18 L54.01,341.21 L55.42,341.25 L56.83,341.29 L58.24,341.33 L59.65,341.38 L61.06,341.43 L62.47,341.49 L63.88,341.55 L65.29,341.61 L66.70,341.68 L68.11,341.76 L69.52,341.84 L70.93,341.93 L72.34,342.03 L73.75,342.14 L75.16,342.25 L76.57,342.38 L77.98,342.52 L79.39,342.66 L80.80,342.82 L82.21,343.00 L83.62,343.19 L85.03,343.39 L86.44,343.61 L87.85,343.85 L89.26,344.11 L90.67,344.39 L92.08,344.69 L93.49,345.01 L94.90,345.36 L96.31,345.74 L97.72,346.15 L99.13,346.59 L100.54,347.06 L101.95,347.56 L103.36,348.11 L104.77,348.69 L106.18,349.32 L107.59,349.98 L109.00,350.70 L110.41,351.46 L111.82,352.27 L113.23,353.13 L114.64,354.04 L116.05,355.01 L117.46,356.03 L118.87,357.11 L120.28,358.25 L121.69,359.45 L123.10,360.70" fill="none" stroke="#1a4a2a" stroke-width="1.7" stroke-linejoin="round"/>
<path d="M38.50,341.02 L39.91,341.04 L41.32,341.06 L42.73,341.08 L44.14,341.11 L45.55,341.13 L46.96,341.16 L48.37,341.19 L49.78,341.23 L51.19,341.26 L52.60,341.31 L54.01,341.35 L55.42,341.40 L56.83,341.45 L58.24,341.51 L59.65,341.57 L61.06,341.64 L62.47,341.71 L63.88,341.79 L65.29,341.87 L66.70,341.97 L68.11,342.07 L69.52,342.18 L70.93,342.30 L72.34,342.43 L73.75,342.57 L75.16,342.72 L76.57,342.88 L77.98,343.06 L79.39,343.26 L80.80,343.46 L82.21,343.69 L83.62,343.94 L85.03,344.20 L86.44,344.49 L87.85,344.80 L89.26,345.13 L90.67,345.49 L92.08,345.88 L93.49,346.30 L94.90,346.75 L96.31,347.23 L97.72,347.75 L99.13,348.31 L100.54,348.91 L101.95,349.54 L103.36,350.23 L104.77,350.96 L106.18,351.74 L107.59,352.56 L109.00,353.44 L110.41,354.38 L111.82,355.36 L113.23,356.41 L114.64,357.51 L116.05,358.66 L117.46,359.88 L118.87,361.15 L120.28,362.48 L121.69,363.86 L123.10,365.30" fill="none" stroke="#1a28d0" stroke-width="1.7" stroke-linejoin="round"/>
<path d="M38.50,340.92 L39.91,340.93 L41.32,340.94 L42.73,340.96 L44.14,340.97 L45.55,340.98 L46.96,341.00 L48.37,341.02 L49.78,341.04 L51.19,341.06 L52.60,341.08 L54.01,341.11 L55.42,341.13 L56.83,341.16 L58.24,341.19 L59.65,341.23 L61.06,341.27 L62.47,341.31 L63.88,341.35 L65.29,341.40 L66.70,341.45 L68.11,341.51 L69.52,341.57 L70.93,341.64 L72.34,341.71 L73.75,341.79 L75.16,341.88 L76.57,341.97 L77.98,342.07 L79.39,342.18 L80.80,342.30 L82.21,342.43 L83.62,342.57 L85.03,342.72 L86.44,342.89 L87.85,343.07 L89.26,343.26 L90.67,343.47 L92.08,343.70 L93.49,343.94 L94.90,344.21 L96.31,344.50 L97.72,344.81 L99.13,345.14 L100.54,345.50 L101.95,345.89 L103.36,346.31 L104.77,346.76 L106.18,347.24 L107.59,347.76 L109.00,348.32 L110.41,348.92 L111.82,349.56 L113.23,350.25 L114.64,350.98 L116.05,351.75 L117.46,352.58 L118.87,353.46 L120.28,354.40 L121.69,355.39 L123.10,356.43" fill="none" stroke="#b04080" stroke-width="1.7" stroke-linejoin="round"/>
<path d="M38.50,341.17 L39.91,341.20 L41.32,341.24 L42.73,341.28 L44.14,341.32 L45.55,341.36 L46.96,341.41 L48.37,341.46 L49.78,341.52 L51.19,341.59 L52.60,341.65 L54.01,341.73 L55.42,341.81 L56.83,341.90 L58.24,341.99 L59.65,342.10 L61.06,342.21 L62.47,342.33 L63.88,342.46 L65.29,342.61 L66.70,342.76 L68.11,342.93 L69.52,343.11 L70.93,343.31 L72.34,343.52 L73.75,343.75 L75.16,344.00 L76.57,344.27 L77.98,344.57 L79.39,344.88 L80.80,345.22 L82.21,345.59 L83.62,345.99 L85.03,346.41 L86.44,346.87 L87.85,347.36 L89.26,347.89 L90.67,348.46 L92.08,349.07 L93.49,349.72 L94.90,350.42 L96.31,351.16 L97.72,351.95 L99.13,352.79 L100.54,353.68 L101.95,354.63 L103.36,355.63 L104.77,356.69 L106.18,357.81 L107.59,358.98 L109.00,360.21 L110.41,361.49 L111.82,362.84 L113.23,364.23 L114.64,365.68 L116.05,367.18 L117.46,368.73 L118.87,370.32 L120.28,371.96 L121.69,373.62 L123.10,375.32" fill="none" stroke="#3a4aa8" stroke-width="1.7" stroke-linejoin="round"/>
<path d="M38.50,340.92 L39.91,340.93 L41.32,340.94 L42.73,340.95 L44.14,340.97 L45.55,340.98 L46.96,341.00 L48.37,341.01 L49.78,341.03 L51.19,341.05 L52.60,341.08 L54.01,341.10 L55.42,341.13 L56.83,341.15 L58.24,341.19 L59.65,341.22 L61.06,341.26 L62.47,341.30 L63.88,341.34 L65.29,341.39 L66.70,341.44 L68.11,341.49 L69.52,341.56 L70.93,341.62 L72.34,341.69 L73.75,341.77 L75.16,341.85 L76.57,341.95 L77.98,342.05 L79.39,342.15 L80.80,342.27 L82.21,342.40 L83.62,342.54 L85.03,342.69 L86.44,342.85 L87.85,343.02 L89.26,343.21 L90.67,343.42 L92.08,343.64 L93.49,343.88 L94.90,344.14 L96.31,344.43 L97.72,344.73 L99.13,345.06 L100.54,345.41 L101.95,345.80 L103.36,346.21 L104.77,346.65 L106.18,347.13 L107.59,347.64 L109.00,348.19 L110.41,348.78 L111.82,349.41 L113.23,350.08 L114.64,350.80 L116.05,351.57 L117.46,352.39 L118.87,353.25 L120.28,354.18 L121.69,355.15 L123.10,356.18" fill="none" stroke="#1e1a48" stroke-width="1.7" stroke-linejoin="round"/>
<line x1="137.30" y1="330.40" x2="151.90" y2="330.40" stroke="#7a7a34" stroke-width="1.5"/>
<text transform="translate(161.20,334.50)">6</text>
<line x1="137.30" y1="340.33" x2="151.90" y2="340.33" stroke="#858585" stroke-width="1.5"/>
<text transform="translate(161.20,344.43)">7</text>
<line x1="137.30" y1="350.26" x2="151.90" y2="350.26" stroke="#202020" stroke-width="1.5"/>
<text transform="translate(161.20,354.36)">8</text>
<line x1="137.30" y1="360.19" x2="151.90" y2="360.19" stroke="#d83050" stroke-width="1.5"/>
<text transform="translate(161.20,364.29)">9</text>
<line x1="137.30" y1="370.12" x2="151.90" y2="370.12" stroke="#e8a040" stroke-width="1.5"/>
<text transform="translate(161.20,374.22)">11</text>
<line x1="137.30" y1="380.05" x2="151.90" y2="380.05" stroke="#7f7f2a" stroke-width="1.5"/>
<text transform="translate(161.20,384.15)">12</text>
<line x1="137.30" y1="389.98" x2="151.90" y2="389.98" stroke="#40e040" stroke-width="1.5"/>
<text transform="translate(161.20,394.08)">13</text>
<line x1="137.30" y1="399.91" x2="151.90" y2="399.91" stroke="#3a4a3a" stroke-width="1.5"/>
<text transform="translate(161.20,404.01)">16</text>
<line x1="137.30" y1="409.84" x2="151.90" y2="409.84" stroke="#1f5a4a" stroke-width="1.5"/>
<text transform="translate(161.20,413.94)">17</text>
<line x1="137.30" y1="419.77" x2="151.90" y2="419.77" stroke="#2038c8" stroke-width="1.5"/>
<text transform="translate(161.20,423.87)">19</text>
<line x1="137.30" y1="429.70" x2="151.90" y2="429.70" stroke="#b04080" stroke-width="1.5"/>
<text transform="translate(161.20,433.80)">24</text>
<line x1="137.30" y1="439.63" x2="151.90" y2="439.63" stroke="#6a5acd" stroke-width="1.5"/>
<text transform="translate(161.20,443.73)">21</text>
<line x1="137.30" y1="449.56" x2="151.90" y2="449.56" stroke="#2a1a40" stroke-width="1.5"/>
<text transform="translate(161.20,453.66)">25</text>
<line x1="222.80" y1="341.20" x2="222.80" y2="425.90" stroke="#000" stroke-width="1.5"/>
<line x1="219.10" y1="425.20" x2="222.80" y2="425.20" stroke="#000" stroke-width="1.5"/>
<text text-anchor="end" transform="translate(217.10,429.30)">0</text>
<line x1="219.10" y1="408.54" x2="222.80" y2="408.54" stroke="#000" stroke-width="1.5"/>
<text text-anchor="end" transform="translate(217.10,412.64)">20</text>
<line x1="219.10" y1="391.88" x2="222.80" y2="391.88" stroke="#000" stroke-width="1.5"/>
<text text-anchor="end" transform="translate(217.10,395.98)">40</text>
<line x1="219.10" y1="375.22" x2="222.80" y2="375.22" stroke="#000" stroke-width="1.5"/>
<text text-anchor="end" transform="translate(217.10,379.32)">60</text>
<line x1="219.10" y1="358.56" x2="222.80" y2="358.56" stroke="#000" stroke-width="1.5"/>
<text text-anchor="end" transform="translate(217.10,362.66)">80</text>
<line x1="219.10" y1="341.90" x2="222.80" y2="341.90" stroke="#000" stroke-width="1.5"/>
<text text-anchor="end" transform="translate(217.10,346.00)">100</text>
<line x1="222.80" y1="425.20" x2="306.60" y2="425.20" stroke="#000" stroke-width="1.5"/>
<line x1="222.80" y1="425.20" x2="222.80" y2="428.60" stroke="#000" stroke-width="1.2"/>
<line x1="235.41" y1="425.20" x2="235.41" y2="427.20" stroke="#000" stroke-width="1.2"/>
<line x1="242.79" y1="425.20" x2="242.79" y2="427.20" stroke="#000" stroke-width="1.2"/>
<line x1="248.03" y1="425.20" x2="248.03" y2="427.20" stroke="#000" stroke-width="1.2"/>
<line x1="252.09" y1="425.20" x2="252.09" y2="427.20" stroke="#000" stroke-width="1.2"/>
<line x1="255.40" y1="425.20" x2="255.40" y2="427.20" stroke="#000" stroke-width="1.2"/>
<line x1="258.21" y1="425.20" x2="258.21" y2="427.20" stroke="#000" stroke-width="1.2"/>
<line x1="260.64" y1="425.20" x2="260.64" y2="427.20" stroke="#000" stroke-width="1.2"/>
<line x1="262.78" y1="425.20" x2="262.78" y2="427.20" stroke="#000" stroke-width="1.2"/>
<line x1="264.70" y1="425.20" x2="264.70" y2="428.60" stroke="#000" stroke-width="1.2"/>
<line x1="277.31" y1="425.20" x2="277.31" y2="427.20" stroke="#000" stroke-width="1.2"/>
<line x1="284.69" y1="425.20" x2="284.69" y2="427.20" stroke="#000" stroke-width="1.2"/>
<line x1="289.93" y1="425.20" x2="289.93" y2="427.20" stroke="#000" stroke-width="1.2"/>
<line x1="293.99" y1="425.20" x2="293.99" y2="427.20" stroke="#000" stroke-width="1.2"/>
<line x1="297.30" y1="425.20" x2="297.30" y2="427.20" stroke="#000" stroke-width="1.2"/>
<line x1="300.11" y1="425.20" x2="300.11" y2="427.20" stroke="#000" stroke-width="1.2"/>
<line x1="302.54" y1="425.20" x2="302.54" y2="427.20" stroke="#000" stroke-width="1.2"/>
<line x1="304.68" y1="425.20" x2="304.68" y2="427.20" stroke="#000" stroke-width="1.2"/>
<line x1="306.60" y1="425.20" x2="306.60" y2="428.60" stroke="#000" stroke-width="1.2"/>
<text text-anchor="middle" transform="translate(222.80,442.60)">1</text>
<text text-anchor="middle" transform="translate(264.70,442.60)">10</text>
<text text-anchor="middle" transform="translate(306.60,442.60)">100</text>
<text text-anchor="middle" transform="translate(264.70,452.40)">Bortezomib (nM)</text>
<text transform="translate(241.40,333.10)">FLT3-ITD</text>
<text text-anchor="middle" transform="translate(191.40,382.15) rotate(-90)">Cell survival (%)</text>
<path d="M222.80,343.35 L224.20,343.45 L225.59,343.57 L226.99,343.69 L228.39,343.82 L229.78,343.97 L231.18,344.12 L232.58,344.28 L233.97,344.46 L235.37,344.64 L236.77,344.84 L238.16,345.06 L239.56,345.29 L240.96,345.53 L242.35,345.79 L243.75,346.07 L245.15,346.37 L246.54,346.69 L247.94,347.03 L249.34,347.39 L250.73,347.78 L252.13,348.19 L253.53,348.63 L254.92,349.09 L256.32,349.59 L257.72,350.11 L259.11,350.67 L260.51,351.26 L261.91,351.88 L263.30,352.54 L264.70,353.23 L266.10,353.96 L267.49,354.74 L268.89,355.55 L270.29,356.40 L271.68,357.30 L273.08,358.23 L274.48,359.21 L275.87,360.23 L277.27,361.30 L278.67,362.40 L280.06,363.55 L281.46,364.74 L282.86,365.97 L284.25,367.23 L285.65,368.54 L287.05,369.87 L288.44,371.24 L289.84,372.64 L291.24,374.07 L292.63,375.52 L294.03,377.00 L295.43,378.48 L296.82,379.99 L298.22,381.50 L299.62,383.01 L301.01,384.53 L302.41,386.05 L303.81,387.56 L305.20,389.06 L306.60,390.54" fill="none" stroke="#111111" stroke-width="1.6" stroke-linejoin="round"/>
<path d="M222.80,344.51 L224.20,344.73 L225.59,344.97 L226.99,345.23 L228.39,345.51 L229.78,345.81 L231.18,346.14 L232.58,346.49 L233.97,346.87 L235.37,347.28 L236.77,347.72 L238.16,348.19 L239.56,348.70 L240.96,349.25 L242.35,349.83 L243.75,350.45 L245.15,351.12 L246.54,351.83 L247.94,352.59 L249.34,353.40 L250.73,354.26 L252.13,355.17 L253.53,356.13 L254.92,357.15 L256.32,358.22 L257.72,359.35 L259.11,360.53 L260.51,361.77 L261.91,363.06 L263.30,364.41 L264.70,365.80 L266.10,367.25 L267.49,368.74 L268.89,370.27 L270.29,371.85 L271.68,373.45 L273.08,375.09 L274.48,376.75 L275.87,378.44 L277.27,380.13 L278.67,381.84 L280.06,383.54 L281.46,385.24 L282.86,386.93 L284.25,388.61 L285.65,390.26 L287.05,391.88 L288.44,393.47 L289.84,395.03 L291.24,396.55 L292.63,398.02 L294.03,399.44 L295.43,400.81 L296.82,402.13 L298.22,403.40 L299.62,404.61 L301.01,405.77 L302.41,406.87 L303.81,407.92 L305.20,408.91 L306.60,409.85" fill="none" stroke="#8c8c30" stroke-width="1.6" stroke-linejoin="round"/>
<path d="M222.80,342.21 L224.20,342.23 L225.59,342.26 L226.99,342.29 L228.39,342.32 L229.78,342.36 L231.18,342.39 L232.58,342.44 L233.97,342.48 L235.37,342.53 L236.77,342.58 L238.16,342.64 L239.56,342.70 L240.96,342.77 L242.35,342.84 L243.75,342.91 L245.15,343.00 L246.54,343.09 L247.94,343.19 L249.34,343.29 L250.73,343.41 L252.13,343.53 L253.53,343.67 L254.92,343.81 L256.32,343.97 L257.72,344.14 L259.11,344.32 L260.51,344.52 L261.91,344.73 L263.30,344.96 L264.70,345.20 L266.10,345.47 L267.49,345.76 L268.89,346.06 L270.29,346.39 L271.68,346.75 L273.08,347.13 L274.48,347.54 L275.87,347.98 L277.27,348.45 L278.67,348.95 L280.06,349.49 L281.46,350.06 L282.86,350.68 L284.25,351.33 L285.65,352.03 L287.05,352.76 L288.44,353.55 L289.84,354.38 L291.24,355.26 L292.63,356.19 L294.03,357.17 L295.43,358.20 L296.82,359.28 L298.22,360.41 L299.62,361.60 L301.01,362.84 L302.41,364.13 L303.81,365.46 L305.20,366.85 L306.60,368.28" fill="none" stroke="#858585" stroke-width="1.3" stroke-linejoin="round"/>
<path d="M222.80,343.47 L224.20,343.59 L225.59,343.71 L226.99,343.85 L228.39,343.99 L229.78,344.15 L231.18,344.31 L232.58,344.49 L233.97,344.68 L235.37,344.88 L236.77,345.09 L238.16,345.33 L239.56,345.57 L240.96,345.84 L242.35,346.12 L243.75,346.42 L245.15,346.75 L246.54,347.09 L247.94,347.46 L249.34,347.85 L250.73,348.26 L252.13,348.70 L253.53,349.17 L254.92,349.67 L256.32,350.20 L257.72,350.76 L259.11,351.36 L260.51,351.99 L261.91,352.65 L263.30,353.35 L264.70,354.09 L266.10,354.87 L267.49,355.69 L268.89,356.55 L270.29,357.45 L271.68,358.39 L273.08,359.38 L274.48,360.41 L275.87,361.48 L277.27,362.59 L278.67,363.75 L280.06,364.94 L281.46,366.18 L282.86,367.45 L284.25,368.76 L285.65,370.10 L287.05,371.48 L288.44,372.88 L289.84,374.31 L291.24,375.77 L292.63,377.24 L294.03,378.73 L295.43,380.24 L296.82,381.75 L298.22,383.27 L299.62,384.79 L301.01,386.30 L302.41,387.81 L303.81,389.31 L305.20,390.79 L306.60,392.25" fill="none" stroke="#5a6e6e" stroke-width="1.6" stroke-linejoin="round"/>
<path d="M222.80,343.31 L224.20,343.41 L225.59,343.53 L226.99,343.65 L228.39,343.77 L229.78,343.91 L231.18,344.06 L232.58,344.22 L233.97,344.39 L235.37,344.57 L236.77,344.77 L238.16,344.98 L239.56,345.20 L240.96,345.44 L242.35,345.70 L243.75,345.97 L245.15,346.26 L246.54,346.57 L247.94,346.90 L249.34,347.26 L250.73,347.63 L252.13,348.04 L253.53,348.46 L254.92,348.92 L256.32,349.40 L257.72,349.92 L259.11,350.46 L260.51,351.04 L261.91,351.65 L263.30,352.29 L264.70,352.97 L266.10,353.69 L267.49,354.45 L268.89,355.25 L270.29,356.08 L271.68,356.96 L273.08,357.88 L274.48,358.85 L275.87,359.85 L277.27,360.90 L278.67,361.99 L280.06,363.12 L281.46,364.30 L282.86,365.51 L284.25,366.76 L285.65,368.05 L287.05,369.38 L288.44,370.74 L289.84,372.13 L291.24,373.55 L292.63,374.99 L294.03,376.45 L295.43,377.94 L296.82,379.43 L298.22,380.94 L299.62,382.46 L301.01,383.98 L302.41,385.49 L303.81,387.00 L305.20,388.51 L306.60,390.00" fill="none" stroke="#c83040" stroke-width="1.6" stroke-linejoin="round"/>
<path d="M222.80,344.39 L224.20,344.60 L225.59,344.83 L226.99,345.08 L228.39,345.35 L229.78,345.64 L231.18,345.95 L232.58,346.28 L233.97,346.65 L235.37,347.04 L236.77,347.46 L238.16,347.92 L239.56,348.40 L240.96,348.93 L242.35,349.49 L243.75,350.09 L245.15,350.73 L246.54,351.42 L247.94,352.15 L249.34,352.93 L250.73,353.76 L252.13,354.64 L253.53,355.57 L254.92,356.55 L256.32,357.59 L257.72,358.69 L259.11,359.84 L260.51,361.05 L261.91,362.31 L263.30,363.62 L264.70,364.99 L266.10,366.40 L267.49,367.87 L268.89,369.38 L270.29,370.93 L271.68,372.52 L273.08,374.14 L274.48,375.79 L275.87,377.46 L277.27,379.15 L278.67,380.85 L280.06,382.55 L281.46,384.26 L282.86,385.95 L284.25,387.64 L285.65,389.30 L287.05,390.94 L288.44,392.56 L289.84,394.13 L291.24,395.67 L292.63,397.17 L294.03,398.62 L295.43,400.02 L296.82,401.38 L298.22,402.67 L299.62,403.92 L301.01,405.11 L302.41,406.24 L303.81,407.32 L305.20,408.35 L306.60,409.31" fill="none" stroke="#e0a060" stroke-width="1.6" stroke-linejoin="round"/>
<path d="M222.80,344.57 L224.20,344.80 L225.59,345.05 L226.99,345.31 L228.39,345.60 L229.78,345.91 L231.18,346.24 L232.58,346.60 L233.97,346.99 L235.37,347.41 L236.77,347.86 L238.16,348.34 L239.56,348.86 L240.96,349.42 L242.35,350.01 L243.75,350.65 L245.15,351.33 L246.54,352.06 L247.94,352.83 L249.34,353.65 L250.73,354.53 L252.13,355.45 L253.53,356.43 L254.92,357.46 L256.32,358.55 L257.72,359.70 L259.11,360.90 L260.51,362.15 L261.91,363.46 L263.30,364.82 L264.70,366.23 L266.10,367.69 L267.49,369.19 L268.89,370.74 L270.29,372.32 L271.68,373.94 L273.08,375.59 L274.48,377.26 L275.87,378.94 L277.27,380.64 L278.67,382.35 L280.06,384.05 L281.46,385.75 L282.86,387.43 L284.25,389.10 L285.65,390.75 L287.05,392.36 L288.44,393.95 L289.84,395.49 L291.24,396.99 L292.63,398.45 L294.03,399.86 L295.43,401.21 L296.82,402.52 L298.22,403.77 L299.62,404.97 L301.01,406.11 L302.41,407.19 L303.81,408.22 L305.20,409.20 L306.60,410.12" fill="none" stroke="#8c8c3c" stroke-width="1.6" stroke-linejoin="round"/>
<path d="M222.80,344.64 L224.20,344.87 L225.59,345.13 L226.99,345.40 L228.39,345.69 L229.78,346.01 L231.18,346.35 L232.58,346.72 L233.97,347.12 L235.37,347.54 L236.77,348.00 L238.16,348.50 L239.56,349.03 L240.96,349.59 L242.35,350.20 L243.75,350.85 L245.15,351.55 L246.54,352.29 L247.94,353.08 L249.34,353.92 L250.73,354.80 L252.13,355.75 L253.53,356.74 L254.92,357.79 L256.32,358.90 L257.72,360.06 L259.11,361.28 L260.51,362.55 L261.91,363.87 L263.30,365.25 L264.70,366.67 L266.10,368.15 L267.49,369.66 L268.89,371.22 L270.29,372.82 L271.68,374.44 L273.08,376.10 L274.48,377.77 L275.87,379.46 L277.27,381.16 L278.67,382.87 L280.06,384.57 L281.46,386.27 L282.86,387.95 L284.25,389.61 L285.65,391.25 L287.05,392.85 L288.44,394.42 L289.84,395.95 L291.24,397.44 L292.63,398.89 L294.03,400.28 L295.43,401.62 L296.82,402.91 L298.22,404.14 L299.62,405.32 L301.01,406.45 L302.41,407.51 L303.81,408.53 L305.20,409.49 L306.60,410.40" fill="none" stroke="#50e050" stroke-width="1.6" stroke-linejoin="round"/>
<path d="M222.80,344.51 L224.20,344.73 L225.59,344.97 L226.99,345.23 L228.39,345.51 L229.78,345.81 L231.18,346.14 L232.58,346.49 L233.97,346.87 L235.37,347.28 L236.77,347.72 L238.16,348.19 L239.56,348.70 L240.96,349.25 L242.35,349.83 L243.75,350.45 L245.15,351.12 L246.54,351.83 L247.94,352.59 L249.34,353.40 L250.73,354.26 L252.13,355.17 L253.53,356.13 L254.92,357.15 L256.32,358.22 L257.72,359.35 L259.11,360.53 L260.51,361.77 L261.91,363.06 L263.30,364.41 L264.70,365.80 L266.10,367.25 L267.49,368.74 L268.89,370.27 L270.29,371.85 L271.68,373.45 L273.08,375.09 L274.48,376.75 L275.87,378.44 L277.27,380.13 L278.67,381.84 L280.06,383.54 L281.46,385.24 L282.86,386.93 L284.25,388.61 L285.65,390.26 L287.05,391.88 L288.44,393.47 L289.84,395.03 L291.24,396.55 L292.63,398.02 L294.03,399.44 L295.43,400.81 L296.82,402.13 L298.22,403.40 L299.62,404.61 L301.01,405.77 L302.41,406.87 L303.81,407.92 L305.20,408.91 L306.60,409.85" fill="none" stroke="#1e5a1e" stroke-width="1.6" stroke-linejoin="round"/>
<path d="M222.80,343.57 L224.20,343.69 L225.59,343.83 L226.99,343.97 L228.39,344.12 L229.78,344.28 L231.18,344.46 L232.58,344.64 L233.97,344.85 L235.37,345.06 L236.77,345.29 L238.16,345.53 L239.56,345.80 L240.96,346.08 L242.35,346.37 L243.75,346.69 L245.15,347.03 L246.54,347.40 L247.94,347.78 L249.34,348.19 L250.73,348.63 L252.13,349.10 L253.53,349.59 L254.92,350.12 L256.32,350.67 L257.72,351.26 L259.11,351.88 L260.51,352.54 L261.91,353.24 L263.30,353.97 L264.70,354.74 L266.10,355.56 L267.49,356.41 L268.89,357.30 L270.29,358.24 L271.68,359.22 L273.08,360.24 L274.48,361.30 L275.87,362.41 L277.27,363.56 L278.67,364.75 L280.06,365.98 L281.46,367.24 L282.86,368.55 L284.25,369.89 L285.65,371.26 L287.05,372.66 L288.44,374.08 L289.84,375.54 L291.24,377.01 L292.63,378.50 L294.03,380.00 L295.43,381.51 L296.82,383.03 L298.22,384.55 L299.62,386.06 L301.01,387.57 L302.41,389.07 L303.81,390.55 L305.20,392.02 L306.60,393.46" fill="none" stroke="#2a7a6a" stroke-width="1.6" stroke-linejoin="round"/>
<path d="M222.80,343.62 L224.20,343.75 L225.59,343.89 L226.99,344.03 L228.39,344.19 L229.78,344.36 L231.18,344.54 L232.58,344.73 L233.97,344.94 L235.37,345.16 L236.77,345.39 L238.16,345.65 L239.56,345.92 L240.96,346.21 L242.35,346.51 L243.75,346.84 L245.15,347.19 L246.54,347.56 L247.94,347.96 L249.34,348.38 L250.73,348.83 L252.13,349.31 L253.53,349.82 L254.92,350.36 L256.32,350.93 L257.72,351.53 L259.11,352.17 L260.51,352.84 L261.91,353.56 L263.30,354.31 L264.70,355.10 L266.10,355.93 L267.49,356.80 L268.89,357.71 L270.29,358.67 L271.68,359.66 L273.08,360.70 L274.48,361.79 L275.87,362.91 L277.27,364.08 L278.67,365.29 L280.06,366.53 L281.46,367.81 L282.86,369.13 L284.25,370.49 L285.65,371.87 L287.05,373.28 L288.44,374.72 L289.84,376.18 L291.24,377.66 L292.63,379.16 L294.03,380.67 L295.43,382.18 L296.82,383.70 L298.22,385.22 L299.62,386.73 L301.01,388.23 L302.41,389.73 L303.81,391.20 L305.20,392.66 L306.60,394.09" fill="none" stroke="#2a38c0" stroke-width="1.6" stroke-linejoin="round"/>
<path d="M222.80,347.70 L224.20,348.15 L225.59,348.63 L226.99,349.14 L228.39,349.69 L229.78,350.28 L231.18,350.90 L232.58,351.56 L233.97,352.27 L235.37,353.02 L236.77,353.81 L238.16,354.65 L239.56,355.53 L240.96,356.47 L242.35,357.45 L243.75,358.48 L245.15,359.56 L246.54,360.69 L247.94,361.87 L249.34,363.10 L250.73,364.37 L252.13,365.69 L253.53,367.05 L254.92,368.45 L256.32,369.90 L257.72,371.37 L259.11,372.87 L260.51,374.41 L261.91,375.96 L263.30,377.53 L264.70,379.12 L266.10,380.71 L267.49,382.30 L268.89,383.89 L270.29,385.48 L271.68,387.05 L273.08,388.60 L274.48,390.13 L275.87,391.64 L277.27,393.11 L278.67,394.55 L280.06,395.95 L281.46,397.31 L282.86,398.62 L284.25,399.90 L285.65,401.12 L287.05,402.30 L288.44,403.43 L289.84,404.50 L291.24,405.53 L292.63,406.51 L294.03,407.45 L295.43,408.33 L296.82,409.16 L298.22,409.96 L299.62,410.70 L301.01,411.40 L302.41,412.06 L303.81,412.69 L305.20,413.27 L306.60,413.82" fill="none" stroke="#7428a8" stroke-width="1.6" stroke-linejoin="round"/>
<path d="M222.80,343.24 L224.20,343.34 L225.59,343.45 L226.99,343.56 L228.39,343.68 L229.78,343.81 L231.18,343.96 L232.58,344.11 L233.97,344.27 L235.37,344.44 L236.77,344.63 L238.16,344.83 L239.56,345.04 L240.96,345.27 L242.35,345.51 L243.75,345.77 L245.15,346.05 L246.54,346.35 L247.94,346.67 L249.34,347.01 L250.73,347.37 L252.13,347.75 L253.53,348.16 L254.92,348.60 L256.32,349.06 L257.72,349.55 L259.11,350.07 L260.51,350.63 L261.91,351.21 L263.30,351.83 L264.70,352.49 L266.10,353.18 L267.49,353.91 L268.89,354.68 L270.29,355.49 L271.68,356.34 L273.08,357.23 L274.48,358.16 L275.87,359.14 L277.27,360.16 L278.67,361.22 L280.06,362.32 L281.46,363.47 L282.86,364.65 L284.25,365.88 L285.65,367.14 L287.05,368.44 L288.44,369.78 L289.84,371.15 L291.24,372.54 L292.63,373.97 L294.03,375.42 L295.43,376.89 L296.82,378.38 L298.22,379.88 L299.62,381.39 L301.01,382.91 L302.41,384.42 L303.81,385.94 L305.20,387.45 L306.60,388.95" fill="none" stroke="#4a1040" stroke-width="1.6" stroke-linejoin="round"/>
<path d="M222.80,346.37 L224.20,346.72 L225.59,347.10 L226.99,347.51 L228.39,347.94 L229.78,348.41 L231.18,348.91 L232.58,349.44 L233.97,350.01 L235.37,350.61 L236.77,351.26 L238.16,351.94 L239.56,352.67 L240.96,353.44 L242.35,354.26 L243.75,355.12 L245.15,356.04 L246.54,357.00 L247.94,358.01 L249.34,359.06 L250.73,360.17 L252.13,361.33 L253.53,362.53 L254.92,363.79 L256.32,365.09 L257.72,366.43 L259.11,367.81 L260.51,369.24 L261.91,370.70 L263.30,372.19 L264.70,373.71 L266.10,375.25 L267.49,376.82 L268.89,378.40 L270.29,379.98 L271.68,381.58 L273.08,383.17 L274.48,384.76 L275.87,386.34 L277.27,387.90 L278.67,389.44 L280.06,390.96 L281.46,392.44 L282.86,393.90 L284.25,395.32 L285.65,396.70 L287.05,398.03 L288.44,399.32 L289.84,400.57 L291.24,401.77 L292.63,402.92 L294.03,404.02 L295.43,405.07 L296.82,406.07 L298.22,407.03 L299.62,407.93 L301.01,408.79 L302.41,409.60 L303.81,410.37 L305.20,411.09 L306.60,411.77" fill="none" stroke="#6050d8" stroke-width="1.6" stroke-linejoin="round"/>
<line x1="320.80" y1="322.50" x2="336.00" y2="322.50" stroke="#111111" stroke-width="1.5"/>
<text transform="translate(344.40,326.60)">1</text>
<line x1="320.80" y1="332.40" x2="336.00" y2="332.40" stroke="#8c8c30" stroke-width="1.5"/>
<text transform="translate(344.40,336.50)">2</text>
<line x1="320.80" y1="342.30" x2="336.00" y2="342.30" stroke="#a0a0a0" stroke-width="1.5"/>
<text transform="translate(344.40,346.40)">3</text>
<line x1="320.80" y1="352.20" x2="336.00" y2="352.20" stroke="#5a6e6e" stroke-width="1.5"/>
<text transform="translate(344.40,356.30)">4</text>
<line x1="320.80" y1="362.10" x2="336.00" y2="362.10" stroke="#c83040" stroke-width="1.5"/>
<text transform="translate(344.40,366.20)">5</text>
<line x1="320.80" y1="372.00" x2="336.00" y2="372.00" stroke="#e0a060" stroke-width="1.5"/>
<text transform="translate(344.40,376.10)">10</text>
<line x1="320.80" y1="381.90" x2="336.00" y2="381.90" stroke="#8c8c3c" stroke-width="1.5"/>
<text transform="translate(344.40,386.00)">14</text>
<line x1="320.80" y1="391.80" x2="336.00" y2="391.80" stroke="#50e050" stroke-width="1.5"/>
<text transform="translate(344.40,395.90)">15</text>
<line x1="320.80" y1="401.70" x2="336.00" y2="401.70" stroke="#2a5a2a" stroke-width="1.5"/>
<text transform="translate(344.40,405.80)">18</text>
<line x1="320.80" y1="411.60" x2="336.00" y2="411.60" stroke="#2a6a5a" stroke-width="1.5"/>
<text transform="translate(344.40,415.70)">20</text>
<line x1="320.80" y1="421.50" x2="336.00" y2="421.50" stroke="#2a38c0" stroke-width="1.5"/>
<text transform="translate(344.40,425.60)">22</text>
<line x1="320.80" y1="431.40" x2="336.00" y2="431.40" stroke="#6a3a9a" stroke-width="1.5"/>
<text transform="translate(344.40,435.50)">23</text>
<line x1="320.80" y1="441.30" x2="336.00" y2="441.30" stroke="#8a1a4a" stroke-width="1.5"/>
<text transform="translate(344.40,445.40)">26</text>
<line x1="320.80" y1="451.20" x2="336.00" y2="451.20" stroke="#e070a8" stroke-width="1.5"/>
<text transform="translate(344.40,455.30)">27</text>
<text font-weight="bold" font-size="17.5" transform="translate(362.00,319.20)">E</text>
<line x1="405.80" y1="340.50" x2="405.80" y2="426.10" stroke="#000" stroke-width="1.5"/>
<line x1="402.10" y1="425.40" x2="405.80" y2="425.40" stroke="#000" stroke-width="1.5"/>
<text text-anchor="end" transform="translate(400.30,429.50)">0</text>
<line x1="402.10" y1="408.56" x2="405.80" y2="408.56" stroke="#000" stroke-width="1.5"/>
<text text-anchor="end" transform="translate(400.30,412.66)">20</text>
<line x1="402.10" y1="391.72" x2="405.80" y2="391.72" stroke="#000" stroke-width="1.5"/>
<text text-anchor="end" transform="translate(400.30,395.82)">40</text>
<line x1="402.10" y1="374.88" x2="405.80" y2="374.88" stroke="#000" stroke-width="1.5"/>
<text text-anchor="end" transform="translate(400.30,378.98)">60</text>
<line x1="402.10" y1="358.04" x2="405.80" y2="358.04" stroke="#000" stroke-width="1.5"/>
<text text-anchor="end" transform="translate(400.30,362.14)">80</text>
<line x1="402.10" y1="341.20" x2="405.80" y2="341.20" stroke="#000" stroke-width="1.5"/>
<text text-anchor="end" transform="translate(400.30,345.30)">100</text>
<line x1="405.80" y1="425.40" x2="489.50" y2="425.40" stroke="#000" stroke-width="1.5"/>
<line x1="405.80" y1="425.40" x2="405.80" y2="429.20" stroke="#000" stroke-width="1.3"/>
<line x1="426.73" y1="425.40" x2="426.73" y2="427.80" stroke="#000" stroke-width="1.3"/>
<line x1="447.65" y1="425.40" x2="447.65" y2="429.20" stroke="#000" stroke-width="1.3"/>
<line x1="468.57" y1="425.40" x2="468.57" y2="427.80" stroke="#000" stroke-width="1.3"/>
<line x1="489.50" y1="425.40" x2="489.50" y2="429.20" stroke="#000" stroke-width="1.3"/>
<text text-anchor="middle" transform="translate(405.80,442.50)">0</text>
<text text-anchor="middle" transform="translate(447.65,442.50)">50</text>
<text text-anchor="middle" transform="translate(489.50,442.50)">100</text>
<text transform="translate(376.00,453.00)">FLT3-ITD mutation load (%)</text>
<text text-anchor="middle" transform="translate(377.20,383.50) rotate(-90)">Apoptotic 50 (nM)</text>
<circle cx="421.20" cy="335.40" r="1.15" fill="#000"/>
<circle cx="424.40" cy="335.40" r="1.15" fill="#000"/>
<text transform="translate(431.40,342.00)">P value= 0.0084</text>
<text transform="translate(419.60,355.30)">r= -0.719</text>
<line x1="407.63" y1="365.42" x2="488.66" y2="400.43" stroke="#000" stroke-width="1.5"/>
<circle cx="408.14" cy="361.63" r="2.50" fill="#000000"/>
<circle cx="413.79" cy="376.68" r="2.50" fill="#7a7a7a"/>
<circle cx="418.01" cy="374.62" r="2.50" fill="#8a9a3a"/>
<circle cx="439.96" cy="366.90" r="2.50" fill="#a0305a"/>
<circle cx="443.42" cy="373.88" r="2.50" fill="#f0a050"/>
<circle cx="447.81" cy="373.88" r="2.50" fill="#e84020"/>
<circle cx="446.46" cy="374.05" r="2.50" fill="#d02020"/>
<circle cx="457.68" cy="373.64" r="2.50" fill="#2040e0"/>
<circle cx="472.28" cy="379.06" r="2.50" fill="#40e040"/>
<circle cx="461.65" cy="404.38" r="2.50" fill="#1f5a4a"/>
<circle cx="468.57" cy="406.11" r="2.50" fill="#9a9a6a"/>
<circle cx="489.50" cy="410.22" r="2.50" fill="#6a2a8a"/>
<text font-weight="bold" font-size="17.5" transform="translate(1.00,482.80)">F</text>
<line x1="7.30" y1="490.80" x2="22.70" y2="490.80" stroke="#e02020" stroke-width="1.5"/>
<circle cx="15.00" cy="490.80" r="2.60" fill="#e02020"/>
<text transform="translate(31.20,495.00)">Apoptotic 50 (nM)</text>
<line x1="7.30" y1="507.10" x2="22.70" y2="507.10" stroke="#2020d0" stroke-width="1.5"/>
<circle cx="15.00" cy="507.10" r="2.60" fill="#2020d0"/>
<text transform="translate(31.20,511.40)">FLT3-ITD mutation load (%)</text>
<text text-anchor="middle" transform="translate(80.30,525.40)">#20</text>
<line x1="37.60" y1="534.50" x2="122.20" y2="534.50" stroke="#000" stroke-width="1.5"/>
<line x1="37.60" y1="618.10" x2="122.20" y2="618.10" stroke="#000" stroke-width="1.5"/>
<line x1="37.60" y1="533.80" x2="37.60" y2="618.80" stroke="#000" stroke-width="1.5"/>
<line x1="122.20" y1="533.80" x2="122.20" y2="618.80" stroke="#000" stroke-width="1.5"/>
<line x1="33.90" y1="618.10" x2="37.60" y2="618.10" stroke="#000" stroke-width="1.5"/>
<text text-anchor="end" transform="translate(33.60,622.20)">0</text>
<line x1="33.90" y1="590.23" x2="37.60" y2="590.23" stroke="#000" stroke-width="1.5"/>
<text text-anchor="end" transform="translate(33.60,594.33)">10</text>
<line x1="33.90" y1="562.37" x2="37.60" y2="562.37" stroke="#000" stroke-width="1.5"/>
<text text-anchor="end" transform="translate(33.60,566.47)">20</text>
<line x1="33.90" y1="534.50" x2="37.60" y2="534.50" stroke="#000" stroke-width="1.5"/>
<text text-anchor="end" transform="translate(33.60,538.60)">30</text>
<line x1="122.20" y1="618.10" x2="125.90" y2="618.10" stroke="#000" stroke-width="1.5"/>
<text transform="translate(129.40,622.20)">0</text>
<line x1="122.20" y1="597.20" x2="125.90" y2="597.20" stroke="#000" stroke-width="1.5"/>
<text transform="translate(129.40,601.30)">100</text>
<line x1="122.20" y1="576.30" x2="125.90" y2="576.30" stroke="#000" stroke-width="1.5"/>
<text transform="translate(129.40,580.40)">200</text>
<line x1="122.20" y1="555.40" x2="125.90" y2="555.40" stroke="#000" stroke-width="1.5"/>
<text transform="translate(129.40,559.50)">300</text>
<line x1="122.20" y1="534.50" x2="125.90" y2="534.50" stroke="#000" stroke-width="1.5"/>
<text transform="translate(129.40,538.60)">400</text>
<text text-anchor="middle" transform="translate(12.80,575.60) rotate(-90)">Apoptotic 50 (nM)</text>
<text text-anchor="middle" transform="translate(168.30,576.00) rotate(90)">FLT3-ITD</text>
<text text-anchor="middle" transform="translate(155.20,575.80) rotate(90)">mutation load (%)</text>
<line x1="59.30" y1="618.10" x2="59.30" y2="622.30" stroke="#000" stroke-width="1.4"/>
<line x1="101.30" y1="618.10" x2="101.30" y2="622.30" stroke="#000" stroke-width="1.4"/>
<text text-anchor="end" transform="translate(62.70,633.60) rotate(-47)">Diagnosis</text>
<text text-anchor="end" transform="translate(104.70,633.60) rotate(-47)">Relapse</text>
<line x1="59.30" y1="544.40" x2="101.30" y2="573.00" stroke="#d42424" stroke-width="1.7"/>
<line x1="59.30" y1="604.80" x2="101.30" y2="552.50" stroke="#1c1cc8" stroke-width="1.7"/>
<circle cx="59.30" cy="544.40" r="2.80" fill="#e02020"/>
<circle cx="101.30" cy="573.00" r="2.80" fill="#e02020"/>
<circle cx="59.30" cy="604.80" r="2.80" fill="#2020d8"/>
<circle cx="101.30" cy="552.50" r="2.80" fill="#2020d8"/>
<text font-weight="bold" font-size="17.5" transform="translate(195.60,481.80)">G</text>
<circle cx="222.80" cy="539.40" r="2.00" fill="#000"/>
<text transform="translate(238.90,542.70)">NPM1-WT</text>
<rect x="220.90" y="551.00" width="3.80" height="3.80" fill="#9a9a9a"/>
<text transform="translate(238.90,556.40) scale(0.97,1)">NPM1-MUT</text>
<line x1="244.70" y1="567.00" x2="244.70" y2="652.20" stroke="#000" stroke-width="1.5"/>
<line x1="241.00" y1="651.50" x2="244.70" y2="651.50" stroke="#000" stroke-width="1.5"/>
<text text-anchor="end" transform="translate(239.20,655.60)">0</text>
<line x1="241.00" y1="634.74" x2="244.70" y2="634.74" stroke="#000" stroke-width="1.5"/>
<text text-anchor="end" transform="translate(239.20,638.84)">100</text>
<line x1="241.00" y1="617.98" x2="244.70" y2="617.98" stroke="#000" stroke-width="1.5"/>
<text text-anchor="end" transform="translate(239.20,622.08)">200</text>
<line x1="241.00" y1="601.22" x2="244.70" y2="601.22" stroke="#000" stroke-width="1.5"/>
<text text-anchor="end" transform="translate(239.20,605.32)">300</text>
<line x1="241.00" y1="584.46" x2="244.70" y2="584.46" stroke="#000" stroke-width="1.5"/>
<text text-anchor="end" transform="translate(239.20,588.56)">400</text>
<line x1="241.00" y1="567.70" x2="244.70" y2="567.70" stroke="#000" stroke-width="1.5"/>
<text text-anchor="end" transform="translate(239.20,571.80)">500</text>
<line x1="244.70" y1="651.50" x2="301.20" y2="651.50" stroke="#000" stroke-width="1.5"/>
<text text-anchor="middle" transform="translate(201.80,609.20) rotate(-90)">Bortezomib</text>
<text text-anchor="middle" transform="translate(214.20,609.20) rotate(-90)">IC 50 (nM)</text>
<text text-anchor="middle" transform="translate(271.70,566.30)">ns</text>
<line x1="258.00" y1="568.60" x2="285.00" y2="568.60" stroke="#000" stroke-width="1.4"/>
<circle cx="258.40" cy="580.10" r="2.10" fill="#000"/>
<circle cx="258.40" cy="597.60" r="2.10" fill="#000"/>
<circle cx="258.40" cy="613.30" r="2.10" fill="#000"/>
<circle cx="258.40" cy="620.90" r="2.10" fill="#000"/>
<circle cx="254.10" cy="638.00" r="2.10" fill="#000"/>
<circle cx="257.50" cy="636.60" r="2.10" fill="#000"/>
<circle cx="260.20" cy="638.60" r="2.10" fill="#000"/>
<circle cx="252.80" cy="641.30" r="2.10" fill="#000"/>
<circle cx="256.20" cy="641.30" r="2.10" fill="#000"/>
<circle cx="259.50" cy="641.30" r="2.10" fill="#000"/>
<circle cx="262.20" cy="640.70" r="2.10" fill="#000"/>
<circle cx="264.90" cy="642.70" r="2.10" fill="#000"/>
<circle cx="251.40" cy="647.80" r="2.10" fill="#000"/>
<circle cx="256.20" cy="649.40" r="2.10" fill="#000"/>
<circle cx="260.90" cy="647.80" r="2.10" fill="#000"/>
<line x1="249.20" y1="631.20" x2="267.60" y2="631.20" stroke="#000" stroke-width="1.6"/>
<line x1="258.40" y1="625.90" x2="258.40" y2="636.50" stroke="#000" stroke-width="1.4"/>
<line x1="254.80" y1="625.90" x2="262.00" y2="625.90" stroke="#000" stroke-width="1.4"/>
<rect x="284.50" y="598.40" width="3.80" height="3.80" fill="#959595"/>
<rect x="284.50" y="609.10" width="3.80" height="3.80" fill="#959595"/>
<rect x="288.20" y="613.90" width="3.80" height="3.80" fill="#959595"/>
<rect x="281.20" y="619.20" width="3.80" height="3.80" fill="#959595"/>
<rect x="277.80" y="627.30" width="3.80" height="3.80" fill="#959595"/>
<rect x="291.90" y="624.60" width="3.80" height="3.80" fill="#959595"/>
<rect x="291.90" y="634.70" width="3.80" height="3.80" fill="#959595"/>
<rect x="277.10" y="637.40" width="3.80" height="3.80" fill="#959595"/>
<rect x="281.80" y="640.10" width="3.80" height="3.80" fill="#959595"/>
<rect x="287.20" y="640.10" width="3.80" height="3.80" fill="#959595"/>
<line x1="277.70" y1="626.50" x2="295.20" y2="626.50" stroke="#000" stroke-width="1.6"/>
<line x1="286.40" y1="622.20" x2="286.40" y2="630.80" stroke="#000" stroke-width="1.4"/>
<line x1="282.80" y1="622.20" x2="290.00" y2="622.20" stroke="#000" stroke-width="1.4"/>
<line x1="282.80" y1="630.80" x2="290.00" y2="630.80" stroke="#000" stroke-width="1.4"/>
<text font-weight="bold" font-size="17.5" transform="translate(337.50,482.70)">H</text>
<circle cx="364.60" cy="490.80" r="2.42" fill="#000"/>
<text transform="translate(380.80,495.00)">NPM1-WT FLT3-WT</text>
<rect x="362.60" y="505.00" width="4.00" height="4.00" fill="#7c7c7c"/>
<text transform="translate(380.80,511.20)">NPM1-MUT FLT3-WT</text>
<path d="M364.60,520.44L367.36,525.27L361.84,525.27Z" fill="#a08a68"/>
<text transform="translate(380.80,527.40)">NPM1-WT FLT3-ITD</text>
<path d="M364.60,542.04L367.24,537.42L361.96,537.42Z" fill="#1e2e44"/>
<text transform="translate(380.80,543.60)">NPM1-MUT FLT3-ITD</text>
<line x1="407.70" y1="568.80" x2="407.70" y2="653.90" stroke="#000" stroke-width="1.5"/>
<line x1="404.00" y1="653.20" x2="407.70" y2="653.20" stroke="#000" stroke-width="1.5"/>
<text text-anchor="end" transform="translate(401.80,657.30)">0</text>
<line x1="404.00" y1="636.46" x2="407.70" y2="636.46" stroke="#000" stroke-width="1.5"/>
<text text-anchor="end" transform="translate(401.80,640.56)">100</text>
<line x1="404.00" y1="619.72" x2="407.70" y2="619.72" stroke="#000" stroke-width="1.5"/>
<text text-anchor="end" transform="translate(401.80,623.82)">200</text>
<line x1="404.00" y1="602.98" x2="407.70" y2="602.98" stroke="#000" stroke-width="1.5"/>
<text text-anchor="end" transform="translate(401.80,607.08)">300</text>
<line x1="404.00" y1="586.24" x2="407.70" y2="586.24" stroke="#000" stroke-width="1.5"/>
<text text-anchor="end" transform="translate(401.80,590.34)">400</text>
<line x1="404.00" y1="569.50" x2="407.70" y2="569.50" stroke="#000" stroke-width="1.5"/>
<text text-anchor="end" transform="translate(401.80,573.60)">500</text>
<line x1="407.70" y1="653.20" x2="492.50" y2="653.20" stroke="#000" stroke-width="1.5"/>
<text text-anchor="middle" transform="translate(365.40,610.60) rotate(-90)">Bortezomib</text>
<text text-anchor="middle" transform="translate(378.60,610.60) rotate(-90)">IC 50 (nM)</text>
<circle cx="418.50" cy="581.30" r="2.10" fill="#000"/>
<circle cx="418.50" cy="599.20" r="2.10" fill="#000"/>
<circle cx="418.50" cy="614.00" r="2.10" fill="#000"/>
<circle cx="418.50" cy="622.30" r="2.10" fill="#000"/>
<circle cx="418.50" cy="629.40" r="2.10" fill="#000"/>
<circle cx="418.50" cy="639.60" r="2.10" fill="#000"/>
<line x1="411.70" y1="614.00" x2="425.30" y2="614.00" stroke="#000" stroke-width="1.6"/>
<line x1="418.50" y1="593.50" x2="418.50" y2="635.20" stroke="#000" stroke-width="1.5"/>
<line x1="415.50" y1="593.50" x2="421.50" y2="593.50" stroke="#000" stroke-width="1.5"/>
<line x1="415.50" y1="635.20" x2="421.50" y2="635.20" stroke="#000" stroke-width="1.5"/>
<rect x="437.40" y="599.90" width="3.80" height="3.80" fill="#9a9a9a"/>
<rect x="433.50" y="628.60" width="3.80" height="3.80" fill="#9a9a9a"/>
<rect x="441.50" y="626.30" width="3.80" height="3.80" fill="#9a9a9a"/>
<rect x="437.40" y="636.20" width="3.80" height="3.80" fill="#9a9a9a"/>
<rect x="435.50" y="629.30" width="3.80" height="3.80" fill="#9a9a9a"/>
<line x1="432.60" y1="623.90" x2="446.60" y2="623.90" stroke="#000" stroke-width="1.6"/>
<line x1="439.60" y1="611.00" x2="439.60" y2="636.20" stroke="#000" stroke-width="1.5"/>
<line x1="436.60" y1="611.00" x2="442.60" y2="611.00" stroke="#000" stroke-width="1.5"/>
<line x1="436.60" y1="636.20" x2="442.60" y2="636.20" stroke="#000" stroke-width="1.5"/>
<path d="M457.20,641.34L459.36,645.12L455.04,645.12Z" fill="#c8a868"/>
<path d="M461.50,640.14L463.66,643.92L459.34,643.92Z" fill="#c8a868"/>
<path d="M459.00,645.84L461.16,649.62L456.84,649.62Z" fill="#c8a868"/>
<path d="M462.00,647.84L464.16,651.62L459.84,651.62Z" fill="#c8a868"/>
<path d="M458.00,648.84L460.16,652.62L455.84,652.62Z" fill="#c8a868"/>
<line x1="454.10" y1="644.60" x2="466.70" y2="644.60" stroke="#000" stroke-width="1.6"/>
<line x1="460.40" y1="641.80" x2="460.40" y2="650.70" stroke="#000" stroke-width="1.5"/>
<line x1="457.60" y1="641.80" x2="463.20" y2="641.80" stroke="#000" stroke-width="1.5"/>
<line x1="457.60" y1="650.70" x2="463.20" y2="650.70" stroke="#000" stroke-width="1.5"/>
<path d="M477.50,642.66L479.66,638.88L475.34,638.88Z" fill="#1e2e48"/>
<path d="M480.90,644.36L483.06,640.58L478.74,640.58Z" fill="#1e2e48"/>
<path d="M484.20,644.16L486.36,640.38L482.04,640.38Z" fill="#1e2e48"/>
<path d="M479.20,645.56L481.36,641.78L477.04,641.78Z" fill="#1e2e48"/>
<path d="M482.80,645.76L484.96,641.98L480.64,641.98Z" fill="#1e2e48"/>
<line x1="474.30" y1="642.20" x2="487.50" y2="642.20" stroke="#000" stroke-width="1.6"/>
<line x1="480.90" y1="640.70" x2="480.90" y2="643.80" stroke="#000" stroke-width="1.5"/>
<line x1="478.70" y1="640.70" x2="483.10" y2="640.70" stroke="#000" stroke-width="1.5"/>
<line x1="478.70" y1="643.80" x2="483.10" y2="643.80" stroke="#000" stroke-width="1.5"/>
<line x1="418.60" y1="553.20" x2="479.80" y2="553.20" stroke="#000" stroke-width="1.4"/>
<circle cx="450.00" cy="548.60" r="1.35" fill="#000"/>
<line x1="418.60" y1="561.00" x2="459.80" y2="561.00" stroke="#000" stroke-width="1.4"/>
<circle cx="440.00" cy="557.40" r="1.35" fill="#000"/>
<line x1="418.60" y1="570.40" x2="437.30" y2="570.40" stroke="#000" stroke-width="1.4"/>
<text text-anchor="middle" transform="translate(428.50,569.60)">ns</text>
<line x1="439.70" y1="580.80" x2="480.80" y2="580.80" stroke="#000" stroke-width="1.4"/>
<circle cx="458.20" cy="576.60" r="1.35" fill="#000"/>
<circle cx="463.40" cy="576.60" r="1.35" fill="#000"/>
<line x1="439.30" y1="587.40" x2="458.90" y2="587.40" stroke="#000" stroke-width="1.4"/>
<circle cx="446.40" cy="583.80" r="1.35" fill="#000"/>
<circle cx="451.60" cy="583.80" r="1.35" fill="#000"/>
</svg>
</body></html>
